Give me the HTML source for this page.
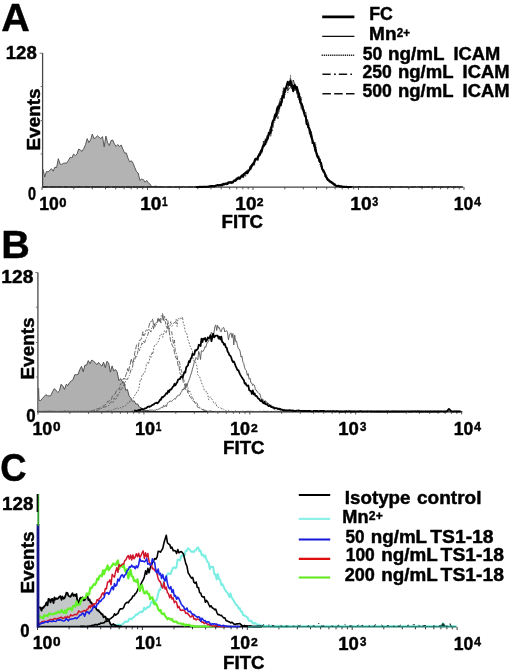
<!DOCTYPE html>
<html><head><meta charset="utf-8"><title>Figure</title>
<style>
html,body{margin:0;padding:0;background:#fff;}
body{width:520px;height:672px;overflow:hidden;}
svg{display:block;}
svg text{font-family:"Liberation Sans",sans-serif;font-weight:bold;fill:#000;stroke:#000;stroke-width:0.45px;stroke-linejoin:round;}
</style></head>
<body>
<svg width="520" height="672" viewBox="0 0 520 672">
<defs><filter id="soft" x="0" y="0" width="520" height="672" filterUnits="userSpaceOnUse"><feGaussianBlur stdDeviation="0.38"/></filter></defs>
<rect width="520" height="672" fill="#fff"/>
<g filter="url(#soft)">
<g id="panelA">
<text x="1.34" y="30.5" font-size="39.5" textLength="28.52" lengthAdjust="spacingAndGlyphs">A</text>
<text x="5.81" y="59.4" font-size="17.6" textLength="30.95" lengthAdjust="spacingAndGlyphs">128</text>
<text transform="translate(40.00,149.60) rotate(-90)" x="-0.91" y="0" font-size="18.8" textLength="62.07" lengthAdjust="spacingAndGlyphs">Events</text>
<text x="27.89" y="199.9" font-size="18" textLength="8.00" lengthAdjust="spacingAndGlyphs">0</text>
<path d="M42.3,169.5 L43.0,169.2 L44.7,177.0 L46.4,171.5 L48.1,171.9 L49.8,170.3 L51.5,168.7 L53.2,171.2 L54.9,167.1 L56.6,167.6 L58.3,158.7 L60.0,164.0 L61.7,164.4 L63.4,163.3 L65.1,163.1 L66.8,162.9 L68.5,160.3 L70.2,157.3 L71.9,157.9 L73.6,154.0 L75.3,155.7 L77.0,154.0 L78.7,149.0 L80.4,150.1 L82.1,151.3 L83.8,148.6 L85.5,144.6 L87.2,138.6 L88.9,142.6 L90.6,139.9 L92.3,134.0 L94.0,138.7 L95.7,137.7 L97.4,135.7 L99.1,137.3 L100.8,138.6 L102.5,136.6 L104.2,146.8 L105.9,136.1 L107.6,142.6 L109.3,145.5 L111.0,140.6 L112.7,140.0 L114.4,143.9 L116.1,146.5 L117.8,144.5 L119.5,146.5 L121.2,145.0 L122.9,149.2 L124.6,153.0 L126.3,153.0 L128.0,158.2 L129.7,161.8 L131.4,160.8 L133.1,163.2 L134.8,167.6 L136.5,171.6 L138.2,173.0 L139.9,180.4 L141.6,179.0 L143.3,179.6 L145.0,182.1 L146.7,180.4 L148.4,182.9 L150.1,184.2 L151.8,186.8 L153.5,186.5 L155.2,186.2 L156.9,186.3 L158.6,187.0 L158.6,187.0 L42.3,187.0 Z" fill="#b3b3b3" stroke="none"/>
<path d="M42.3,169.5 L43.0,169.2 L44.7,177.0 L46.4,171.5 L48.1,171.9 L49.8,170.3 L51.5,168.7 L53.2,171.2 L54.9,167.1 L56.6,167.6 L58.3,158.7 L60.0,164.0 L61.7,164.4 L63.4,163.3 L65.1,163.1 L66.8,162.9 L68.5,160.3 L70.2,157.3 L71.9,157.9 L73.6,154.0 L75.3,155.7 L77.0,154.0 L78.7,149.0 L80.4,150.1 L82.1,151.3 L83.8,148.6 L85.5,144.6 L87.2,138.6 L88.9,142.6 L90.6,139.9 L92.3,134.0 L94.0,138.7 L95.7,137.7 L97.4,135.7 L99.1,137.3 L100.8,138.6 L102.5,136.6 L104.2,146.8 L105.9,136.1 L107.6,142.6 L109.3,145.5 L111.0,140.6 L112.7,140.0 L114.4,143.9 L116.1,146.5 L117.8,144.5 L119.5,146.5 L121.2,145.0 L122.9,149.2 L124.6,153.0 L126.3,153.0 L128.0,158.2 L129.7,161.8 L131.4,160.8 L133.1,163.2 L134.8,167.6 L136.5,171.6 L138.2,173.0 L139.9,180.4 L141.6,179.0 L143.3,179.6 L145.0,182.1 L146.7,180.4 L148.4,182.9 L150.1,184.2 L151.8,186.8 L153.5,186.5 L155.2,186.2 L156.9,186.3 L158.6,187.0" fill="none" stroke="#4a4a4a" stroke-width="0.9" stroke-linejoin="round"/>
<path d="M42.6,53V187.2H463.4" stroke="#444" stroke-width="1.25" fill="none"/>
<path d="M42.6,53.2h-3M42.6,86.5h-2M42.6,120.5h-2M42.6,154h-2" stroke="#666" stroke-width="0.9" fill="none"/>
<path d="M42.0,187.0v3.0M73.8,187.0v2.3M92.3,187.0v2.3M105.5,187.0v2.3M115.7,187.0v2.3M124.1,187.0v2.3M131.2,187.0v2.3M137.3,187.0v2.3M142.7,187.0v2.3M147.5,187.0v3.0M179.3,187.0v2.3M197.8,187.0v2.3M211.0,187.0v2.3M221.2,187.0v2.3M229.6,187.0v2.3M236.7,187.0v2.3M242.8,187.0v2.3M248.2,187.0v2.3M253.0,187.0v3.0M284.8,187.0v2.3M303.3,187.0v2.3M316.5,187.0v2.3M326.7,187.0v2.3M335.1,187.0v2.3M342.2,187.0v2.3M348.3,187.0v2.3M353.7,187.0v2.3M358.5,187.0v3.0M390.3,187.0v2.3M408.8,187.0v2.3M422.0,187.0v2.3M432.2,187.0v2.3M440.6,187.0v2.3M447.7,187.0v2.3M453.8,187.0v2.3M459.2,187.0v2.3M464.0,187.0v3.0" stroke="#444" stroke-width="0.9" fill="none"/>
<path d="M43.0,187.0 L43.9,186.7 L44.8,186.8 L45.7,187.0 L46.6,187.0 L47.5,187.0 L48.4,186.9 L49.3,187.0 L50.2,186.9 L51.1,187.0 L52.0,186.7 L52.9,187.0 L53.8,186.9 L54.7,187.0 L55.6,187.0 L56.5,186.9 L57.4,186.8 L58.3,187.0 L59.2,187.0 L60.1,186.9 L61.0,187.0 L61.9,187.0 L62.8,186.9 L63.7,187.0 L64.6,187.0 L65.5,187.0 L66.4,187.0 L67.3,187.0 L68.2,187.0 L69.1,187.0 L70.0,186.8 L70.9,187.0 L71.8,187.0 L72.7,186.9 L73.6,186.9 L74.5,187.0 L75.4,186.9 L76.3,186.8 L77.2,187.0 L78.1,187.0 L79.0,186.9 L79.9,187.0 L80.8,186.8 L81.7,187.0 L82.6,187.0 L83.5,187.0 L84.4,187.0 L85.3,187.0 L86.2,186.9 L87.1,187.0 L88.0,186.7 L88.9,186.8 L89.8,186.9 L90.7,186.9 L91.6,186.8 L92.5,187.0 L93.4,186.9 L94.3,186.9 L95.2,187.0 L96.1,186.9 L97.0,187.0 L97.9,186.9 L98.8,187.0 L99.7,187.0 L100.6,186.9 L101.5,187.0 L102.4,186.9 L103.3,187.0 L104.2,186.9 L105.1,187.0 L106.0,186.8 L106.9,186.9 L107.8,187.0 L108.7,186.9 L109.6,186.8 L110.5,186.7 L111.4,187.0 L112.3,186.8 L113.2,186.9 L114.1,187.0 L115.0,187.0 L115.9,186.8 L116.8,187.0 L117.7,186.9 L118.6,186.8 L119.5,187.0 L120.4,187.0 L121.3,187.0 L122.2,187.0 L123.1,186.7 L124.0,186.6 L124.9,187.0 L125.8,187.0 L126.7,186.9 L127.6,186.7 L128.5,186.9 L129.4,187.0 L130.3,186.9 L131.2,187.0 L132.1,187.0 L133.0,187.0 L133.9,186.9 L134.8,186.9 L135.7,187.0 L136.6,187.0 L137.5,187.0 L138.4,187.0 L139.3,186.8 L140.2,187.0 L141.1,187.0 L142.0,186.8 L142.9,186.9 L143.8,186.6 L144.7,187.0 L145.6,187.0 L146.5,187.0 L147.4,186.8 L148.3,186.5 L149.2,187.0 L150.1,187.0 L151.0,186.9 L151.9,187.0 L152.8,187.0 L153.7,187.0 L154.6,187.0 L155.5,186.8 L156.4,187.0 L157.3,186.8 L158.2,187.0 L159.1,186.9 L160.0,187.0 L160.9,187.0 L161.8,186.9 L162.7,187.0 L163.6,186.9 L164.5,186.9 L165.4,186.8 L166.3,186.8 L167.2,186.8 L168.1,187.0 L169.0,187.0 L169.9,187.0 L170.8,187.0 L171.7,187.0 L172.6,187.0 L173.5,187.0 L174.4,187.0 L175.3,187.0 L176.2,187.0 L177.1,187.0 L178.0,187.0 L178.9,186.8 L179.8,186.9 L180.7,187.0 L181.6,187.0 L182.5,186.6 L183.4,186.9 L184.3,186.7 L185.2,186.6 L186.1,187.0 L187.0,186.9 L187.9,186.9 L188.8,186.9 L189.7,186.9 L190.6,187.0 L191.5,187.0 L192.4,187.0 L193.3,187.0 L194.2,187.0 L195.1,187.0 L196.0,187.0 L196.9,186.9 L197.8,186.8 L198.7,186.9 L199.6,186.9 L200.5,187.0 L201.4,187.0 L202.3,187.0 L203.2,187.0 L204.1,186.9 L205.0,187.0 L205.9,186.7 L206.8,187.0 L207.7,186.5 L208.6,186.9 L209.5,186.8 L210.4,186.5 L211.3,186.6 L212.2,186.2 L213.1,186.4 L214.0,186.4 L214.9,186.2 L215.8,185.2 L216.7,185.6 L217.6,186.0 L218.5,185.3 L219.4,185.9 L220.3,184.0 L221.2,185.6 L222.1,184.3 L223.0,184.1 L223.9,185.1 L224.8,183.8 L225.7,183.2 L226.6,183.3 L227.5,183.1 L228.4,182.4 L229.3,182.7 L230.2,182.3 L231.1,182.3 L232.0,181.4 L232.9,182.3 L233.8,180.4 L234.7,181.1 L235.6,181.2 L236.5,179.4 L237.4,177.7 L238.3,177.8 L239.2,178.7 L240.1,176.9 L241.0,177.5 L241.9,176.5 L242.8,175.6 L243.7,177.8 L244.6,174.1 L245.5,174.9 L246.4,173.7 L247.3,173.9 L248.2,173.1 L249.1,171.3 L250.0,167.7 L250.9,165.2 L251.8,166.4 L252.7,163.3 L253.6,164.1 L254.5,165.5 L255.4,160.5 L256.3,158.4 L257.2,158.5 L258.1,155.5 L259.0,153.4 L259.9,154.6 L260.8,154.3 L261.7,150.1 L262.6,148.4 L263.5,147.0 L264.4,142.2 L265.3,138.6 L266.2,141.6 L267.1,137.0 L268.0,134.3 L268.9,132.8 L269.8,129.8 L270.7,131.2 L271.6,126.1 L272.5,120.3 L273.4,121.1 L274.3,122.5 L275.2,116.6 L276.1,112.1 L277.0,112.0 L277.9,112.2 L278.8,103.3 L279.7,109.2 L280.6,101.2 L281.5,100.1 L282.4,101.1 L283.3,90.7 L284.2,91.4 L285.1,94.4 L286.0,86.5 L286.9,88.5 L287.8,92.6 L288.7,87.7 L289.6,83.9 L290.5,82.4 L291.4,84.2 L292.3,85.0 L293.2,84.2 L294.1,87.3 L295.0,84.0 L295.9,89.2 L296.8,90.6 L297.7,91.8 L298.6,99.3 L299.5,100.6 L300.4,96.2 L301.3,102.7 L302.2,107.4 L303.1,108.3 L304.0,113.5 L304.9,114.2 L305.8,119.9 L306.7,120.3 L307.6,128.3 L308.5,123.6 L309.4,131.4 L310.3,137.0 L311.2,136.4 L312.1,139.6 L313.0,141.3 L313.9,147.1 L314.8,146.5 L315.7,142.7 L316.6,155.5 L317.5,155.0 L318.4,158.7 L319.3,160.2 L320.2,165.8 L321.1,166.8 L322.0,166.5 L322.9,169.4 L323.8,169.3 L324.7,174.4 L325.6,175.2 L326.5,174.0 L327.4,179.4 L328.3,180.7 L329.2,180.8 L330.1,181.6 L331.0,181.6 L331.9,182.8 L332.8,184.0 L333.7,184.0 L334.6,183.1 L335.5,184.4 L336.4,186.7 L337.3,185.8 L338.2,186.3 L339.1,185.9 L340.0,186.4 L340.9,185.9 L341.8,186.4 L342.7,186.5 L343.6,186.8 L344.5,187.0 L345.4,186.9 L346.3,186.8 L347.2,186.9 L348.1,187.0 L349.0,186.8 L349.9,187.0 L350.8,187.0 L351.7,187.0 L352.6,187.0 L353.5,187.0 L354.4,187.0 L355.3,186.8 L356.2,186.9 L357.1,187.0 L358.0,186.8 L358.9,186.9 L359.8,186.9 L360.7,187.0 L361.6,187.0 L362.5,186.9 L363.4,186.7 L364.3,186.7 L365.2,186.7 L366.1,187.0 L367.0,187.0 L367.9,186.9 L368.8,187.0 L369.7,186.8 L370.6,187.0 L371.5,187.0 L372.4,187.0 L373.3,186.9 L374.2,187.0 L375.1,186.9 L376.0,186.9 L376.9,187.0 L377.8,186.9 L378.7,187.0 L379.6,186.9 L380.5,186.9 L381.4,187.0 L382.3,187.0 L383.2,186.7 L384.1,187.0 L385.0,186.8 L385.9,186.9 L386.8,187.0 L387.7,187.0 L388.6,187.0 L389.5,187.0 L390.4,186.9 L391.3,187.0 L392.2,187.0 L393.1,187.0 L394.0,186.7 L394.9,187.0 L395.8,186.9 L396.7,187.0 L397.6,186.9 L398.5,187.0 L399.4,186.9 L400.3,186.7 L401.2,186.9 L402.1,186.9 L403.0,186.9 L403.9,187.0 L404.8,186.9 L405.7,187.0 L406.6,187.0 L407.5,187.0 L408.4,187.0 L409.3,186.9 L410.2,187.0 L411.1,187.0 L412.0,186.7 L412.9,186.8 L413.8,186.8 L414.7,186.9 L415.6,187.0 L416.5,187.0 L417.4,187.0 L418.3,186.8 L419.2,187.0 L420.1,187.0 L421.0,187.0 L421.9,187.0 L422.8,187.0 L423.7,187.0 L424.6,187.0 L425.5,187.0 L426.4,187.0 L427.3,187.0 L428.2,186.9 L429.1,186.6 L430.0,187.0 L430.9,186.7 L431.8,187.0 L432.7,187.0 L433.6,187.0 L434.5,187.0 L435.4,186.8 L436.3,186.9 L437.2,187.0 L438.1,187.0 L439.0,187.0 L439.9,187.0 L440.8,186.8 L441.7,187.0 L442.6,187.0 L443.5,187.0 L444.4,186.8 L445.3,186.7 L446.2,187.0 L447.1,187.0 L448.0,186.9 L448.9,187.0 L449.8,187.0 L450.7,186.8 L451.6,186.7 L452.5,187.0 L453.4,187.0 L454.3,186.9 L455.2,187.0 L456.1,187.0 L457.0,187.0 L457.9,186.6 L458.8,186.9 L459.7,187.0 L460.6,187.0 L461.5,187.0 L462.4,186.9" fill="none" stroke="#333" stroke-width="0.9" stroke-linejoin="round" stroke-dasharray="1.2,1.2"/>
<path d="M43.0,187.0 L43.9,186.8 L44.8,186.9 L45.7,186.9 L46.6,186.7 L47.5,187.0 L48.4,187.0 L49.3,187.0 L50.2,187.0 L51.1,186.8 L52.0,187.0 L52.9,186.9 L53.8,187.0 L54.7,187.0 L55.6,187.0 L56.5,186.7 L57.4,186.8 L58.3,186.8 L59.2,187.0 L60.1,186.9 L61.0,186.9 L61.9,187.0 L62.8,187.0 L63.7,187.0 L64.6,187.0 L65.5,187.0 L66.4,187.0 L67.3,187.0 L68.2,186.9 L69.1,187.0 L70.0,186.8 L70.9,187.0 L71.8,187.0 L72.7,187.0 L73.6,187.0 L74.5,187.0 L75.4,187.0 L76.3,187.0 L77.2,187.0 L78.1,186.7 L79.0,186.9 L79.9,187.0 L80.8,186.8 L81.7,187.0 L82.6,186.9 L83.5,186.9 L84.4,187.0 L85.3,187.0 L86.2,187.0 L87.1,186.9 L88.0,187.0 L88.9,186.9 L89.8,186.8 L90.7,187.0 L91.6,186.8 L92.5,186.7 L93.4,186.8 L94.3,186.8 L95.2,186.8 L96.1,186.6 L97.0,187.0 L97.9,187.0 L98.8,186.9 L99.7,187.0 L100.6,187.0 L101.5,187.0 L102.4,186.9 L103.3,186.9 L104.2,187.0 L105.1,187.0 L106.0,187.0 L106.9,187.0 L107.8,187.0 L108.7,186.9 L109.6,186.8 L110.5,187.0 L111.4,186.9 L112.3,187.0 L113.2,187.0 L114.1,187.0 L115.0,186.9 L115.9,186.9 L116.8,186.9 L117.7,186.9 L118.6,186.8 L119.5,187.0 L120.4,187.0 L121.3,186.9 L122.2,186.9 L123.1,187.0 L124.0,186.8 L124.9,187.0 L125.8,187.0 L126.7,186.9 L127.6,186.9 L128.5,187.0 L129.4,186.8 L130.3,187.0 L131.2,187.0 L132.1,187.0 L133.0,187.0 L133.9,187.0 L134.8,187.0 L135.7,187.0 L136.6,187.0 L137.5,187.0 L138.4,187.0 L139.3,186.8 L140.2,187.0 L141.1,187.0 L142.0,186.9 L142.9,186.6 L143.8,187.0 L144.7,186.9 L145.6,187.0 L146.5,186.7 L147.4,186.9 L148.3,186.8 L149.2,187.0 L150.1,187.0 L151.0,186.8 L151.9,186.9 L152.8,187.0 L153.7,187.0 L154.6,186.9 L155.5,187.0 L156.4,186.5 L157.3,187.0 L158.2,187.0 L159.1,187.0 L160.0,187.0 L160.9,187.0 L161.8,186.7 L162.7,187.0 L163.6,187.0 L164.5,187.0 L165.4,186.9 L166.3,186.9 L167.2,187.0 L168.1,187.0 L169.0,186.9 L169.9,186.9 L170.8,187.0 L171.7,186.9 L172.6,187.0 L173.5,187.0 L174.4,187.0 L175.3,187.0 L176.2,187.0 L177.1,186.9 L178.0,186.8 L178.9,186.9 L179.8,187.0 L180.7,186.8 L181.6,186.9 L182.5,187.0 L183.4,187.0 L184.3,186.8 L185.2,187.0 L186.1,187.0 L187.0,187.0 L187.9,187.0 L188.8,187.0 L189.7,187.0 L190.6,186.9 L191.5,186.9 L192.4,187.0 L193.3,187.0 L194.2,186.9 L195.1,186.8 L196.0,186.9 L196.9,186.8 L197.8,186.8 L198.7,186.8 L199.6,187.0 L200.5,187.0 L201.4,187.0 L202.3,187.0 L203.2,187.0 L204.1,186.6 L205.0,187.0 L205.9,187.0 L206.8,186.9 L207.7,186.3 L208.6,186.7 L209.5,186.5 L210.4,186.6 L211.3,186.4 L212.2,185.8 L213.1,185.9 L214.0,186.1 L214.9,185.5 L215.8,185.3 L216.7,185.7 L217.6,185.3 L218.5,185.2 L219.4,185.4 L220.3,184.3 L221.2,184.9 L222.1,184.9 L223.0,185.4 L223.9,185.0 L224.8,183.1 L225.7,184.5 L226.6,183.3 L227.5,183.6 L228.4,182.7 L229.3,182.4 L230.2,183.1 L231.1,182.4 L232.0,181.8 L232.9,181.4 L233.8,181.1 L234.7,181.0 L235.6,179.7 L236.5,178.6 L237.4,178.8 L238.3,179.5 L239.2,177.8 L240.1,177.6 L241.0,176.5 L241.9,174.3 L242.8,176.0 L243.7,175.1 L244.6,175.4 L245.5,174.0 L246.4,173.6 L247.3,169.8 L248.2,170.6 L249.1,170.8 L250.0,166.1 L250.9,169.7 L251.8,165.1 L252.7,163.4 L253.6,162.7 L254.5,162.7 L255.4,161.0 L256.3,159.8 L257.2,156.2 L258.1,160.5 L259.0,155.5 L259.9,152.6 L260.8,152.4 L261.7,153.4 L262.6,148.5 L263.5,147.9 L264.4,142.6 L265.3,139.4 L266.2,140.5 L267.1,143.2 L268.0,137.1 L268.9,136.8 L269.8,130.7 L270.7,125.9 L271.6,127.2 L272.5,120.3 L273.4,119.2 L274.3,118.9 L275.2,120.7 L276.1,115.1 L277.0,117.0 L277.9,107.1 L278.8,107.2 L279.7,100.7 L280.6,101.4 L281.5,105.7 L282.4,94.7 L283.3,91.2 L284.2,86.6 L285.1,93.2 L286.0,91.1 L286.9,86.3 L287.8,89.2 L288.7,89.6 L289.6,88.1 L290.5,75.2 L291.4,86.5 L292.3,88.3 L293.2,86.9 L294.1,86.2 L295.0,83.2 L295.9,86.2 L296.8,88.6 L297.7,93.1 L298.6,95.0 L299.5,100.1 L300.4,105.4 L301.3,97.1 L302.2,107.6 L303.1,106.0 L304.0,112.7 L304.9,115.0 L305.8,118.2 L306.7,124.6 L307.6,124.0 L308.5,125.8 L309.4,127.7 L310.3,131.5 L311.2,133.2 L312.1,137.8 L313.0,141.4 L313.9,148.7 L314.8,148.4 L315.7,146.8 L316.6,152.6 L317.5,153.9 L318.4,158.4 L319.3,161.6 L320.2,159.2 L321.1,164.3 L322.0,164.8 L322.9,168.5 L323.8,171.8 L324.7,176.3 L325.6,175.2 L326.5,178.7 L327.4,180.8 L328.3,178.6 L329.2,180.1 L330.1,181.0 L331.0,182.2 L331.9,182.9 L332.8,183.2 L333.7,183.9 L334.6,184.5 L335.5,184.6 L336.4,186.5 L337.3,185.3 L338.2,186.2 L339.1,185.8 L340.0,185.9 L340.9,186.7 L341.8,186.4 L342.7,186.5 L343.6,187.0 L344.5,187.0 L345.4,187.0 L346.3,187.0 L347.2,187.0 L348.1,187.0 L349.0,187.0 L349.9,187.0 L350.8,187.0 L351.7,186.7 L352.6,186.8 L353.5,187.0 L354.4,187.0 L355.3,187.0 L356.2,187.0 L357.1,187.0 L358.0,187.0 L358.9,186.9 L359.8,186.8 L360.7,187.0 L361.6,186.8 L362.5,187.0 L363.4,186.8 L364.3,187.0 L365.2,186.9 L366.1,186.7 L367.0,187.0 L367.9,186.7 L368.8,187.0 L369.7,187.0 L370.6,187.0 L371.5,186.9 L372.4,187.0 L373.3,186.8 L374.2,187.0 L375.1,187.0 L376.0,186.8 L376.9,187.0 L377.8,186.9 L378.7,186.8 L379.6,186.9 L380.5,186.9 L381.4,186.9 L382.3,187.0 L383.2,187.0 L384.1,187.0 L385.0,187.0 L385.9,187.0 L386.8,187.0 L387.7,186.9 L388.6,187.0 L389.5,186.7 L390.4,187.0 L391.3,187.0 L392.2,187.0 L393.1,187.0 L394.0,187.0 L394.9,187.0 L395.8,186.9 L396.7,186.8 L397.6,186.8 L398.5,187.0 L399.4,187.0 L400.3,186.7 L401.2,187.0 L402.1,186.9 L403.0,187.0 L403.9,186.8 L404.8,186.8 L405.7,186.6 L406.6,186.9 L407.5,186.9 L408.4,187.0 L409.3,187.0 L410.2,187.0 L411.1,187.0 L412.0,187.0 L412.9,186.8 L413.8,187.0 L414.7,186.9 L415.6,187.0 L416.5,186.9 L417.4,186.7 L418.3,187.0 L419.2,186.9 L420.1,187.0 L421.0,186.9 L421.9,186.9 L422.8,187.0 L423.7,187.0 L424.6,187.0 L425.5,187.0 L426.4,187.0 L427.3,186.8 L428.2,187.0 L429.1,186.9 L430.0,186.9 L430.9,187.0 L431.8,186.8 L432.7,187.0 L433.6,186.9 L434.5,186.7 L435.4,187.0 L436.3,187.0 L437.2,187.0 L438.1,186.6 L439.0,187.0 L439.9,187.0 L440.8,186.8 L441.7,187.0 L442.6,187.0 L443.5,187.0 L444.4,187.0 L445.3,187.0 L446.2,187.0 L447.1,187.0 L448.0,187.0 L448.9,187.0 L449.8,186.9 L450.7,186.9 L451.6,186.9 L452.5,187.0 L453.4,187.0 L454.3,186.9 L455.2,186.9 L456.1,186.8 L457.0,187.0 L457.9,187.0 L458.8,186.9 L459.7,187.0 L460.6,187.0 L461.5,186.9 L462.4,187.0" fill="none" stroke="#333" stroke-width="0.9" stroke-linejoin="round" stroke-dasharray="5,2,1.5,2"/>
<path d="M43.0,186.7 L43.9,187.0 L44.8,186.8 L45.7,187.0 L46.6,186.8 L47.5,186.9 L48.4,186.7 L49.3,187.0 L50.2,187.0 L51.1,186.9 L52.0,186.9 L52.9,187.0 L53.8,187.0 L54.7,186.9 L55.6,186.9 L56.5,187.0 L57.4,187.0 L58.3,187.0 L59.2,186.7 L60.1,187.0 L61.0,186.8 L61.9,186.9 L62.8,186.6 L63.7,186.7 L64.6,186.9 L65.5,186.7 L66.4,187.0 L67.3,186.8 L68.2,187.0 L69.1,186.9 L70.0,186.8 L70.9,187.0 L71.8,187.0 L72.7,187.0 L73.6,187.0 L74.5,186.8 L75.4,186.8 L76.3,187.0 L77.2,187.0 L78.1,186.9 L79.0,187.0 L79.9,187.0 L80.8,187.0 L81.7,186.9 L82.6,187.0 L83.5,186.9 L84.4,186.9 L85.3,187.0 L86.2,186.9 L87.1,186.7 L88.0,187.0 L88.9,186.9 L89.8,187.0 L90.7,186.8 L91.6,186.9 L92.5,186.8 L93.4,186.9 L94.3,186.7 L95.2,187.0 L96.1,187.0 L97.0,187.0 L97.9,186.9 L98.8,187.0 L99.7,187.0 L100.6,186.9 L101.5,186.8 L102.4,186.9 L103.3,187.0 L104.2,187.0 L105.1,187.0 L106.0,187.0 L106.9,187.0 L107.8,186.7 L108.7,187.0 L109.6,187.0 L110.5,186.9 L111.4,187.0 L112.3,187.0 L113.2,187.0 L114.1,187.0 L115.0,186.9 L115.9,187.0 L116.8,187.0 L117.7,186.8 L118.6,186.8 L119.5,187.0 L120.4,187.0 L121.3,187.0 L122.2,187.0 L123.1,187.0 L124.0,186.7 L124.9,187.0 L125.8,186.8 L126.7,187.0 L127.6,186.9 L128.5,186.7 L129.4,187.0 L130.3,187.0 L131.2,187.0 L132.1,186.9 L133.0,186.7 L133.9,186.9 L134.8,187.0 L135.7,187.0 L136.6,187.0 L137.5,187.0 L138.4,186.6 L139.3,187.0 L140.2,187.0 L141.1,187.0 L142.0,186.8 L142.9,186.9 L143.8,187.0 L144.7,187.0 L145.6,186.8 L146.5,187.0 L147.4,187.0 L148.3,187.0 L149.2,186.8 L150.1,187.0 L151.0,187.0 L151.9,187.0 L152.8,186.5 L153.7,187.0 L154.6,186.8 L155.5,186.9 L156.4,187.0 L157.3,187.0 L158.2,187.0 L159.1,187.0 L160.0,187.0 L160.9,186.5 L161.8,186.8 L162.7,187.0 L163.6,187.0 L164.5,187.0 L165.4,186.8 L166.3,187.0 L167.2,186.9 L168.1,187.0 L169.0,186.9 L169.9,186.6 L170.8,187.0 L171.7,186.9 L172.6,187.0 L173.5,186.8 L174.4,186.8 L175.3,187.0 L176.2,187.0 L177.1,186.9 L178.0,187.0 L178.9,187.0 L179.8,186.9 L180.7,186.9 L181.6,187.0 L182.5,187.0 L183.4,186.5 L184.3,186.8 L185.2,187.0 L186.1,186.5 L187.0,187.0 L187.9,187.0 L188.8,187.0 L189.7,187.0 L190.6,187.0 L191.5,186.8 L192.4,187.0 L193.3,186.8 L194.2,187.0 L195.1,187.0 L196.0,186.9 L196.9,186.9 L197.8,187.0 L198.7,187.0 L199.6,187.0 L200.5,186.9 L201.4,186.8 L202.3,186.8 L203.2,186.5 L204.1,186.8 L205.0,186.9 L205.9,186.5 L206.8,186.7 L207.7,187.0 L208.6,187.0 L209.5,186.2 L210.4,186.3 L211.3,186.1 L212.2,186.4 L213.1,186.0 L214.0,185.3 L214.9,185.7 L215.8,186.2 L216.7,185.8 L217.6,184.8 L218.5,185.8 L219.4,186.4 L220.3,186.1 L221.2,185.5 L222.1,184.1 L223.0,184.4 L223.9,184.7 L224.8,184.8 L225.7,183.9 L226.6,183.7 L227.5,183.7 L228.4,183.2 L229.3,183.3 L230.2,181.2 L231.1,184.0 L232.0,181.8 L232.9,182.3 L233.8,180.5 L234.7,180.9 L235.6,179.9 L236.5,179.3 L237.4,179.1 L238.3,177.8 L239.2,179.6 L240.1,176.6 L241.0,177.3 L241.9,176.0 L242.8,173.9 L243.7,173.7 L244.6,171.9 L245.5,176.4 L246.4,174.1 L247.3,170.7 L248.2,172.6 L249.1,170.3 L250.0,166.4 L250.9,166.4 L251.8,167.9 L252.7,164.3 L253.6,162.6 L254.5,162.1 L255.4,160.9 L256.3,159.0 L257.2,160.4 L258.1,155.8 L259.0,156.4 L259.9,152.1 L260.8,150.4 L261.7,151.5 L262.6,146.7 L263.5,145.5 L264.4,144.5 L265.3,140.9 L266.2,141.3 L267.1,139.3 L268.0,136.4 L268.9,134.7 L269.8,129.5 L270.7,136.3 L271.6,128.8 L272.5,131.1 L273.4,124.7 L274.3,120.2 L275.2,118.3 L276.1,113.0 L277.0,112.3 L277.9,118.8 L278.8,111.4 L279.7,100.7 L280.6,98.0 L281.5,99.8 L282.4,102.4 L283.3,87.8 L284.2,99.7 L285.1,89.6 L286.0,88.9 L286.9,86.4 L287.8,90.3 L288.7,87.0 L289.6,81.4 L290.5,86.6 L291.4,89.8 L292.3,85.5 L293.2,85.8 L294.1,87.3 L295.0,90.9 L295.9,88.2 L296.8,92.3 L297.7,97.7 L298.6,95.4 L299.5,98.7 L300.4,100.8 L301.3,109.3 L302.2,109.2 L303.1,108.2 L304.0,109.6 L304.9,114.2 L305.8,117.7 L306.7,119.2 L307.6,121.6 L308.5,122.6 L309.4,129.0 L310.3,134.6 L311.2,134.8 L312.1,143.5 L313.0,141.6 L313.9,145.6 L314.8,147.5 L315.7,149.3 L316.6,152.9 L317.5,158.5 L318.4,158.9 L319.3,162.0 L320.2,162.8 L321.1,164.4 L322.0,168.7 L322.9,168.3 L323.8,169.8 L324.7,173.9 L325.6,174.6 L326.5,178.7 L327.4,179.2 L328.3,179.0 L329.2,182.3 L330.1,182.0 L331.0,183.0 L331.9,182.1 L332.8,182.8 L333.7,184.5 L334.6,184.5 L335.5,186.4 L336.4,185.0 L337.3,185.5 L338.2,185.4 L339.1,187.0 L340.0,186.2 L340.9,186.6 L341.8,187.0 L342.7,186.9 L343.6,186.9 L344.5,186.8 L345.4,187.0 L346.3,187.0 L347.2,186.9 L348.1,187.0 L349.0,187.0 L349.9,187.0 L350.8,187.0 L351.7,187.0 L352.6,186.7 L353.5,187.0 L354.4,186.7 L355.3,186.9 L356.2,186.8 L357.1,187.0 L358.0,187.0 L358.9,187.0 L359.8,186.8 L360.7,187.0 L361.6,186.9 L362.5,186.9 L363.4,186.8 L364.3,187.0 L365.2,187.0 L366.1,186.9 L367.0,187.0 L367.9,186.7 L368.8,187.0 L369.7,187.0 L370.6,187.0 L371.5,186.8 L372.4,186.8 L373.3,186.9 L374.2,187.0 L375.1,187.0 L376.0,187.0 L376.9,186.9 L377.8,186.7 L378.7,187.0 L379.6,187.0 L380.5,187.0 L381.4,187.0 L382.3,187.0 L383.2,186.8 L384.1,187.0 L385.0,187.0 L385.9,187.0 L386.8,186.8 L387.7,186.6 L388.6,187.0 L389.5,187.0 L390.4,187.0 L391.3,186.8 L392.2,186.9 L393.1,186.7 L394.0,187.0 L394.9,187.0 L395.8,187.0 L396.7,187.0 L397.6,187.0 L398.5,187.0 L399.4,186.6 L400.3,186.9 L401.2,187.0 L402.1,187.0 L403.0,186.7 L403.9,187.0 L404.8,186.9 L405.7,186.9 L406.6,186.8 L407.5,186.9 L408.4,187.0 L409.3,187.0 L410.2,187.0 L411.1,187.0 L412.0,187.0 L412.9,187.0 L413.8,187.0 L414.7,187.0 L415.6,186.6 L416.5,187.0 L417.4,187.0 L418.3,187.0 L419.2,187.0 L420.1,186.9 L421.0,187.0 L421.9,186.9 L422.8,187.0 L423.7,187.0 L424.6,186.8 L425.5,186.9 L426.4,187.0 L427.3,187.0 L428.2,186.7 L429.1,186.7 L430.0,186.8 L430.9,187.0 L431.8,186.8 L432.7,186.9 L433.6,187.0 L434.5,187.0 L435.4,186.9 L436.3,186.9 L437.2,186.8 L438.1,187.0 L439.0,186.7 L439.9,187.0 L440.8,186.8 L441.7,186.9 L442.6,187.0 L443.5,187.0 L444.4,187.0 L445.3,187.0 L446.2,186.8 L447.1,187.0 L448.0,187.0 L448.9,187.0 L449.8,186.6 L450.7,186.7 L451.6,187.0 L452.5,187.0 L453.4,186.9 L454.3,187.0 L455.2,187.0 L456.1,187.0 L457.0,187.0 L457.9,187.0 L458.8,187.0 L459.7,187.0 L460.6,187.0 L461.5,187.0 L462.4,187.0" fill="none" stroke="#333" stroke-width="0.9" stroke-linejoin="round" stroke-dasharray="4.5,2.5"/>
<path d="M43.0,186.9 L43.9,187.0 L44.8,187.0 L45.7,187.0 L46.6,187.0 L47.5,186.8 L48.4,187.0 L49.3,186.9 L50.2,186.8 L51.1,187.0 L52.0,186.5 L52.9,187.0 L53.8,186.9 L54.7,186.5 L55.6,187.0 L56.5,187.0 L57.4,187.0 L58.3,186.9 L59.2,187.0 L60.1,187.0 L61.0,186.7 L61.9,187.0 L62.8,187.0 L63.7,186.9 L64.6,186.9 L65.5,187.0 L66.4,186.9 L67.3,187.0 L68.2,186.9 L69.1,187.0 L70.0,186.9 L70.9,187.0 L71.8,187.0 L72.7,187.0 L73.6,187.0 L74.5,186.8 L75.4,187.0 L76.3,186.8 L77.2,187.0 L78.1,186.7 L79.0,187.0 L79.9,186.7 L80.8,186.8 L81.7,187.0 L82.6,186.9 L83.5,187.0 L84.4,186.9 L85.3,186.7 L86.2,186.9 L87.1,186.8 L88.0,187.0 L88.9,187.0 L89.8,186.9 L90.7,186.8 L91.6,187.0 L92.5,186.9 L93.4,186.9 L94.3,187.0 L95.2,187.0 L96.1,186.9 L97.0,187.0 L97.9,187.0 L98.8,186.8 L99.7,186.9 L100.6,187.0 L101.5,187.0 L102.4,187.0 L103.3,187.0 L104.2,187.0 L105.1,186.9 L106.0,186.8 L106.9,187.0 L107.8,187.0 L108.7,187.0 L109.6,187.0 L110.5,187.0 L111.4,186.8 L112.3,187.0 L113.2,186.8 L114.1,187.0 L115.0,186.8 L115.9,186.8 L116.8,187.0 L117.7,187.0 L118.6,187.0 L119.5,187.0 L120.4,187.0 L121.3,187.0 L122.2,186.7 L123.1,187.0 L124.0,187.0 L124.9,187.0 L125.8,187.0 L126.7,187.0 L127.6,186.9 L128.5,187.0 L129.4,187.0 L130.3,187.0 L131.2,187.0 L132.1,186.8 L133.0,186.9 L133.9,187.0 L134.8,187.0 L135.7,186.9 L136.6,186.7 L137.5,187.0 L138.4,186.7 L139.3,187.0 L140.2,187.0 L141.1,187.0 L142.0,186.8 L142.9,187.0 L143.8,187.0 L144.7,186.8 L145.6,187.0 L146.5,187.0 L147.4,186.8 L148.3,187.0 L149.2,186.8 L150.1,187.0 L151.0,186.9 L151.9,186.8 L152.8,187.0 L153.7,186.7 L154.6,187.0 L155.5,187.0 L156.4,187.0 L157.3,186.8 L158.2,187.0 L159.1,187.0 L160.0,187.0 L160.9,186.8 L161.8,187.0 L162.7,187.0 L163.6,187.0 L164.5,186.9 L165.4,187.0 L166.3,187.0 L167.2,187.0 L168.1,187.0 L169.0,187.0 L169.9,186.9 L170.8,186.9 L171.7,186.9 L172.6,187.0 L173.5,186.9 L174.4,187.0 L175.3,187.0 L176.2,186.8 L177.1,186.8 L178.0,187.0 L178.9,186.9 L179.8,187.0 L180.7,187.0 L181.6,187.0 L182.5,187.0 L183.4,186.7 L184.3,187.0 L185.2,187.0 L186.1,187.0 L187.0,187.0 L187.9,186.8 L188.8,186.7 L189.7,187.0 L190.6,186.9 L191.5,187.0 L192.4,186.9 L193.3,187.0 L194.2,186.8 L195.1,187.0 L196.0,186.7 L196.9,186.9 L197.8,186.5 L198.7,187.0 L199.6,187.0 L200.5,187.0 L201.4,187.0 L202.3,186.9 L203.2,187.0 L204.1,187.0 L205.0,187.0 L205.9,186.8 L206.8,186.5 L207.7,186.4 L208.6,186.6 L209.5,186.9 L210.4,186.6 L211.3,186.9 L212.2,186.8 L213.1,185.8 L214.0,186.1 L214.9,185.8 L215.8,185.9 L216.7,185.0 L217.6,184.8 L218.5,185.7 L219.4,185.3 L220.3,185.3 L221.2,184.1 L222.1,183.9 L223.0,184.6 L223.9,182.8 L224.8,184.0 L225.7,184.6 L226.6,184.9 L227.5,183.4 L228.4,182.8 L229.3,183.2 L230.2,182.2 L231.1,181.3 L232.0,181.9 L232.9,180.8 L233.8,179.7 L234.7,180.3 L235.6,180.8 L236.5,179.4 L237.4,178.8 L238.3,176.6 L239.2,178.7 L240.1,179.3 L241.0,176.7 L241.9,176.0 L242.8,176.2 L243.7,174.4 L244.6,173.9 L245.5,172.1 L246.4,173.9 L247.3,172.9 L248.2,171.1 L249.1,170.7 L250.0,167.0 L250.9,166.8 L251.8,166.4 L252.7,162.6 L253.6,162.9 L254.5,160.5 L255.4,159.3 L256.3,159.5 L257.2,157.9 L258.1,156.1 L259.0,156.6 L259.9,153.6 L260.8,149.5 L261.7,149.0 L262.6,150.0 L263.5,141.1 L264.4,146.7 L265.3,141.1 L266.2,138.9 L267.1,135.6 L268.0,138.7 L268.9,134.5 L269.8,132.9 L270.7,127.3 L271.6,127.0 L272.5,124.6 L273.4,121.8 L274.3,115.3 L275.2,116.3 L276.1,113.1 L277.0,115.8 L277.9,108.4 L278.8,111.6 L279.7,102.3 L280.6,102.2 L281.5,102.7 L282.4,100.8 L283.3,94.9 L284.2,92.0 L285.1,92.1 L286.0,89.4 L286.9,87.8 L287.8,87.6 L288.7,85.8 L289.6,83.6 L290.5,79.9 L291.4,82.3 L292.3,86.9 L293.2,80.0 L294.1,82.3 L295.0,88.5 L295.9,86.0 L296.8,93.0 L297.7,95.7 L298.6,97.9 L299.5,92.8 L300.4,100.2 L301.3,102.4 L302.2,106.0 L303.1,110.2 L304.0,110.3 L304.9,112.7 L305.8,112.1 L306.7,123.0 L307.6,119.6 L308.5,125.0 L309.4,134.2 L310.3,130.2 L311.2,131.6 L312.1,135.8 L313.0,140.8 L313.9,143.9 L314.8,151.4 L315.7,149.3 L316.6,152.3 L317.5,157.1 L318.4,157.5 L319.3,161.5 L320.2,158.8 L321.1,166.7 L322.0,168.4 L322.9,172.3 L323.8,171.9 L324.7,173.3 L325.6,175.3 L326.5,177.7 L327.4,177.6 L328.3,179.6 L329.2,179.7 L330.1,181.6 L331.0,183.6 L331.9,183.0 L332.8,184.2 L333.7,183.5 L334.6,184.9 L335.5,185.1 L336.4,185.4 L337.3,186.3 L338.2,186.1 L339.1,185.8 L340.0,186.5 L340.9,186.5 L341.8,186.6 L342.7,186.9 L343.6,186.9 L344.5,186.9 L345.4,187.0 L346.3,187.0 L347.2,187.0 L348.1,187.0 L349.0,187.0 L349.9,186.6 L350.8,186.7 L351.7,187.0 L352.6,186.8 L353.5,186.8 L354.4,186.8 L355.3,187.0 L356.2,187.0 L357.1,187.0 L358.0,187.0 L358.9,186.7 L359.8,186.7 L360.7,187.0 L361.6,187.0 L362.5,186.8 L363.4,186.6 L364.3,187.0 L365.2,186.9 L366.1,187.0 L367.0,187.0 L367.9,187.0 L368.8,187.0 L369.7,187.0 L370.6,187.0 L371.5,187.0 L372.4,186.8 L373.3,186.9 L374.2,186.8 L375.1,186.9 L376.0,187.0 L376.9,186.6 L377.8,187.0 L378.7,187.0 L379.6,186.8 L380.5,187.0 L381.4,187.0 L382.3,187.0 L383.2,187.0 L384.1,187.0 L385.0,187.0 L385.9,186.8 L386.8,186.9 L387.7,186.9 L388.6,187.0 L389.5,186.8 L390.4,186.8 L391.3,186.6 L392.2,187.0 L393.1,187.0 L394.0,186.7 L394.9,187.0 L395.8,186.9 L396.7,187.0 L397.6,187.0 L398.5,187.0 L399.4,187.0 L400.3,187.0 L401.2,186.8 L402.1,187.0 L403.0,187.0 L403.9,187.0 L404.8,187.0 L405.7,187.0 L406.6,186.9 L407.5,187.0 L408.4,187.0 L409.3,187.0 L410.2,187.0 L411.1,187.0 L412.0,187.0 L412.9,187.0 L413.8,187.0 L414.7,186.9 L415.6,186.9 L416.5,187.0 L417.4,186.9 L418.3,186.9 L419.2,186.5 L420.1,187.0 L421.0,186.9 L421.9,187.0 L422.8,186.8 L423.7,187.0 L424.6,186.9 L425.5,187.0 L426.4,186.9 L427.3,187.0 L428.2,187.0 L429.1,187.0 L430.0,187.0 L430.9,186.9 L431.8,186.8 L432.7,187.0 L433.6,187.0 L434.5,186.9 L435.4,186.7 L436.3,186.8 L437.2,186.9 L438.1,187.0 L439.0,187.0 L439.9,187.0 L440.8,187.0 L441.7,186.9 L442.6,187.0 L443.5,187.0 L444.4,186.6 L445.3,187.0 L446.2,186.6 L447.1,187.0 L448.0,187.0 L448.9,187.0 L449.8,187.0 L450.7,186.7 L451.6,187.0 L452.5,187.0 L453.4,186.7 L454.3,187.0 L455.2,187.0 L456.1,187.0 L457.0,187.0 L457.9,186.7 L458.8,186.8 L459.7,187.0 L460.6,186.9 L461.5,187.0 L462.4,187.0" fill="none" stroke="#222" stroke-width="0.9" stroke-linejoin="round"/>
<path d="M196.0,187.0 L196.9,187.0 L197.8,187.0 L198.7,187.0 L199.6,186.9 L200.5,186.9 L201.4,187.0 L202.3,186.9 L203.2,187.0 L204.1,186.7 L205.0,186.8 L205.9,186.9 L206.8,186.8 L207.7,186.7 L208.6,186.6 L209.5,186.3 L210.4,186.4 L211.3,186.0 L212.2,186.1 L213.1,186.2 L214.0,186.4 L214.9,186.3 L215.8,185.7 L216.7,185.4 L217.6,185.0 L218.5,185.5 L219.4,185.1 L220.3,185.2 L221.2,184.9 L222.1,185.4 L223.0,184.1 L223.9,184.5 L224.8,184.0 L225.7,183.6 L226.6,183.4 L227.5,183.9 L228.4,182.4 L229.3,182.4 L230.2,182.3 L231.1,182.5 L232.0,182.7 L232.9,182.4 L233.8,181.2 L234.7,180.6 L235.6,180.7 L236.5,178.7 L237.4,179.1 L238.3,178.1 L239.2,177.6 L240.1,178.4 L241.0,176.3 L241.9,176.1 L242.8,176.7 L243.7,174.5 L244.6,173.5 L245.5,172.8 L246.4,171.9 L247.3,173.2 L248.2,171.2 L249.1,170.5 L250.0,168.8 L250.9,167.6 L251.8,165.3 L252.7,164.3 L253.6,164.6 L254.5,161.2 L255.4,158.9 L256.3,158.9 L257.2,159.5 L258.1,156.9 L259.0,154.7 L259.9,155.0 L260.8,151.4 L261.7,151.4 L262.6,146.9 L263.5,145.3 L264.4,144.5 L265.3,144.4 L266.2,140.2 L267.1,139.6 L268.0,137.7 L268.9,132.7 L269.8,133.6 L270.7,132.5 L271.6,126.7 L272.5,122.6 L273.4,120.5 L274.3,119.4 L275.2,114.5 L276.1,116.4 L277.0,109.0 L277.9,106.5 L278.8,108.6 L279.7,104.5 L280.6,105.4 L281.5,102.1 L282.4,96.1 L283.3,97.2 L284.2,92.1 L285.1,89.4 L286.0,88.2 L286.9,84.8 L287.8,81.7 L288.7,84.9 L289.6,82.5 L290.5,81.2 L291.4,85.7 L292.3,86.6 L293.2,91.1 L294.1,85.6 L295.0,85.6 L295.9,88.7 L296.8,87.0 L297.7,90.2 L298.6,94.1 L299.5,98.3 L300.4,102.7 L301.3,103.5 L302.2,105.5 L303.1,109.4 L304.0,112.6 L304.9,115.7 L305.8,116.7 L306.7,124.0 L307.6,124.6 L308.5,126.9 L309.4,128.9 L310.3,131.8 L311.2,136.2 L312.1,139.6 L313.0,143.3 L313.9,142.8 L314.8,146.5 L315.7,149.9 L316.6,153.9 L317.5,157.0 L318.4,156.7 L319.3,160.5 L320.2,162.2 L321.1,163.1 L322.0,168.7 L322.9,170.1 L323.8,171.2 L324.7,173.0 L325.6,176.2 L326.5,177.2 L327.4,179.0 L328.3,180.2 L329.2,180.6 L330.1,181.4 L331.0,181.7 L331.9,182.6 L332.8,182.9 L333.7,184.4 L334.6,184.4 L335.5,185.5 L336.4,185.9 L337.3,186.1 L338.2,185.7 L339.1,186.1 L340.0,186.7 L340.9,186.2 L341.8,186.5 L342.7,186.8 L343.6,186.9 L344.5,186.9 L345.4,187.0 L346.3,186.7 L347.2,187.0 L348.1,187.0 L349.0,187.0 L349.9,187.0 L350.8,187.0 L351.7,187.0" fill="none" stroke="#000" stroke-width="2.1" stroke-linejoin="round"/>
<text y="210.0" font-size="18"><tspan x="39.37" y="210.0" font-size="18" textLength="19.54" lengthAdjust="spacingAndGlyphs">10</tspan><tspan x="59.24" y="206.5" font-size="13.0" textLength="7.21" lengthAdjust="spacingAndGlyphs">0</tspan></text>
<text y="210.0" font-size="18"><tspan x="140.28" y="210.0" font-size="18" textLength="21.18" lengthAdjust="spacingAndGlyphs">10</tspan><tspan x="161.92" y="205.79999999999998" font-size="13.0" textLength="5.62" lengthAdjust="spacingAndGlyphs">1</tspan></text>
<text y="209.7" font-size="18"><tspan x="235.39" y="209.7" font-size="18" textLength="21.07" lengthAdjust="spacingAndGlyphs">10</tspan><tspan x="256.66" y="206.1" font-size="11.2" textLength="6.75" lengthAdjust="spacingAndGlyphs">2</tspan></text>
<text y="210.0" font-size="18"><tspan x="350.38" y="210.0" font-size="18" textLength="21.29" lengthAdjust="spacingAndGlyphs">10</tspan><tspan x="372.31" y="205.79999999999998" font-size="13.0" textLength="5.95" lengthAdjust="spacingAndGlyphs">3</tspan></text>
<text y="210.0" font-size="18"><tspan x="453.77" y="210.0" font-size="18" textLength="19.54" lengthAdjust="spacingAndGlyphs">10</tspan><tspan x="473.90" y="206.2" font-size="13.0" textLength="7.03" lengthAdjust="spacingAndGlyphs">4</tspan></text>
<text x="221.60" y="228.3" font-size="18.8" textLength="41.48" lengthAdjust="spacingAndGlyphs">FITC</text>
<path d="M322.2,16.9H354.4" stroke="#000" stroke-width="2.7"/>
<path d="M322.2,36.3H354.4" stroke="#111" stroke-width="1.3"/>
<path d="M321.6,55.3H354.2" stroke="#222" stroke-width="1.4" stroke-dasharray="1.3,0.8"/>
<path d="M322.4,74.2H352" stroke="#111" stroke-width="1.6" stroke-dasharray="8.3,3.3,1.8,3"/>
<path d="M322.4,93.7H354.6" stroke="#111" stroke-width="1.6" stroke-dasharray="8.5,3.3"/>
<text x="369.16" y="20.1" font-size="17.8" textLength="23.61" lengthAdjust="spacingAndGlyphs">FC</text>
<text y="40.2" font-size="17.8"><tspan x="369.08" y="40.2" font-size="17.8" textLength="27.45" lengthAdjust="spacingAndGlyphs">Mn</tspan><tspan x="396.78" y="37.0" font-size="13.0" textLength="13.19" lengthAdjust="spacingAndGlyphs">2+</tspan></text>
<text y="59.8" font-size="17.8"><tspan x="362.70" y="59.8" font-size="17.8" textLength="19.51" lengthAdjust="spacingAndGlyphs">50</tspan> <tspan x="387.90" y="59.8" font-size="17.8" textLength="56.16" lengthAdjust="spacingAndGlyphs">ng/mL</tspan> <tspan x="453.43" y="59.8" font-size="17.8" textLength="46.80" lengthAdjust="spacingAndGlyphs">ICAM</tspan></text>
<text y="78.1" font-size="17.8"><tspan x="362.40" y="78.1" font-size="17.8" textLength="29.31" lengthAdjust="spacingAndGlyphs">250</tspan> <tspan x="397.92" y="78.1" font-size="17.8" textLength="55.24" lengthAdjust="spacingAndGlyphs">ng/mL</tspan> <tspan x="462.62" y="78.1" font-size="17.8" textLength="46.91" lengthAdjust="spacingAndGlyphs">ICAM</tspan></text>
<text y="97.3" font-size="17.8"><tspan x="362.40" y="97.3" font-size="17.8" textLength="29.31" lengthAdjust="spacingAndGlyphs">500</tspan> <tspan x="397.92" y="97.3" font-size="17.8" textLength="55.24" lengthAdjust="spacingAndGlyphs">ng/mL</tspan> <tspan x="462.62" y="97.3" font-size="17.8" textLength="46.91" lengthAdjust="spacingAndGlyphs">ICAM</tspan></text>
</g>
<g id="panelB">
<text x="1.35" y="257.9" font-size="39" textLength="28.60" lengthAdjust="spacingAndGlyphs">B</text>
<text x="1.37" y="283.0" font-size="18.2" textLength="32.00" lengthAdjust="spacingAndGlyphs">128</text>
<text transform="translate(34.00,378.60) rotate(-90)" x="-0.91" y="0" font-size="18.8" textLength="62.07" lengthAdjust="spacingAndGlyphs">Events</text>
<text x="26.22" y="422.4" font-size="18" textLength="9.36" lengthAdjust="spacingAndGlyphs">0</text>
<path d="M38.6,388.0 L39.0,400.3 L40.7,400.7 L42.4,398.4 L44.1,396.6 L45.8,394.7 L47.5,395.7 L49.2,396.0 L50.9,395.5 L52.6,391.5 L54.3,388.6 L56.0,390.3 L57.7,392.5 L59.4,390.9 L61.1,384.2 L62.8,386.1 L64.5,389.4 L66.2,384.3 L67.9,385.5 L69.6,382.7 L71.3,380.9 L73.0,379.8 L74.7,374.8 L76.4,374.7 L78.1,374.3 L79.8,369.5 L81.5,366.3 L83.2,371.7 L84.9,365.2 L86.6,365.1 L88.3,360.6 L90.0,363.7 L91.7,360.1 L93.4,361.2 L95.1,362.5 L96.8,364.7 L98.5,362.4 L100.2,364.5 L101.9,366.1 L103.6,362.2 L105.3,367.6 L107.0,361.3 L108.7,363.3 L110.4,372.1 L112.1,365.9 L113.8,371.0 L115.5,369.5 L117.2,372.1 L118.9,380.6 L120.6,378.6 L122.3,381.7 L124.0,382.1 L125.7,390.3 L127.4,389.4 L129.1,396.1 L130.8,397.7 L132.5,401.4 L134.2,400.8 L135.9,404.2 L137.6,403.9 L139.3,407.0 L141.0,407.8 L142.7,408.7 L144.4,410.4 L146.1,410.6 L147.8,410.4 L149.5,411.4 L149.5,411.5 L38.6,411.5 Z" fill="#b0b0b0" stroke="none"/>
<path d="M38.6,388.0 L39.0,400.3 L40.7,400.7 L42.4,398.4 L44.1,396.6 L45.8,394.7 L47.5,395.7 L49.2,396.0 L50.9,395.5 L52.6,391.5 L54.3,388.6 L56.0,390.3 L57.7,392.5 L59.4,390.9 L61.1,384.2 L62.8,386.1 L64.5,389.4 L66.2,384.3 L67.9,385.5 L69.6,382.7 L71.3,380.9 L73.0,379.8 L74.7,374.8 L76.4,374.7 L78.1,374.3 L79.8,369.5 L81.5,366.3 L83.2,371.7 L84.9,365.2 L86.6,365.1 L88.3,360.6 L90.0,363.7 L91.7,360.1 L93.4,361.2 L95.1,362.5 L96.8,364.7 L98.5,362.4 L100.2,364.5 L101.9,366.1 L103.6,362.2 L105.3,367.6 L107.0,361.3 L108.7,363.3 L110.4,372.1 L112.1,365.9 L113.8,371.0 L115.5,369.5 L117.2,372.1 L118.9,380.6 L120.6,378.6 L122.3,381.7 L124.0,382.1 L125.7,390.3 L127.4,389.4 L129.1,396.1 L130.8,397.7 L132.5,401.4 L134.2,400.8 L135.9,404.2 L137.6,403.9 L139.3,407.0 L141.0,407.8 L142.7,408.7 L144.4,410.4 L146.1,410.6 L147.8,410.4 L149.5,411.4" fill="none" stroke="#444" stroke-width="0.9" stroke-linejoin="round"/>
<path d="M37.9,272.4V411.8" stroke="#444" stroke-width="1.25" fill="none"/>
<path d="M37.3,411.8H462.3" stroke="#1a1a1a" stroke-width="1.4" fill="none"/>
<path d="M37.9,272.6h-2.6M37.9,307.2h-2M37.9,342.5h-2M37.9,377h-2" stroke="#666" stroke-width="0.9" fill="none"/>
<path d="M38.0,411.5v3.0M69.9,411.5v2.3M88.5,411.5v2.3M101.8,411.5v2.3M112.0,411.5v2.3M120.4,411.5v2.3M127.5,411.5v2.3M133.6,411.5v2.3M139.1,411.5v2.3M143.9,411.5v3.0M175.8,411.5v2.3M194.4,411.5v2.3M207.7,411.5v2.3M217.9,411.5v2.3M226.3,411.5v2.3M233.4,411.5v2.3M239.5,411.5v2.3M245.0,411.5v2.3M249.8,411.5v3.0M281.7,411.5v2.3M300.3,411.5v2.3M313.6,411.5v2.3M323.8,411.5v2.3M332.2,411.5v2.3M339.3,411.5v2.3M345.4,411.5v2.3M350.9,411.5v2.3M355.7,411.5v3.0M387.6,411.5v2.3M406.2,411.5v2.3M419.5,411.5v2.3M429.7,411.5v2.3M438.1,411.5v2.3M445.2,411.5v2.3M451.3,411.5v2.3M456.8,411.5v2.3M461.6,411.5v3.0" stroke="#444" stroke-width="0.9" fill="none"/>
<path d="M38.5,411.4 L39.4,411.3 L40.3,411.5 L41.2,411.2 L42.1,411.5 L43.0,411.5 L43.9,411.5 L44.8,411.5 L45.7,411.5 L46.6,411.4 L47.5,411.4 L48.4,411.4 L49.3,411.5 L50.2,411.5 L51.1,411.2 L52.0,411.3 L52.9,411.1 L53.8,411.3 L54.7,411.5 L55.6,411.3 L56.5,411.4 L57.4,411.5 L58.3,411.5 L59.2,411.5 L60.1,411.5 L61.0,411.4 L61.9,411.5 L62.8,411.2 L63.7,411.5 L64.6,411.4 L65.5,411.4 L66.4,411.5 L67.3,411.5 L68.2,411.3 L69.1,411.4 L70.0,411.5 L70.9,411.4 L71.8,411.5 L72.7,411.5 L73.6,411.5 L74.5,411.5 L75.4,411.3 L76.3,411.5 L77.2,411.4 L78.1,411.5 L79.0,411.5 L79.9,411.5 L80.8,411.5 L81.7,411.5 L82.6,411.5 L83.5,411.5 L84.4,411.3 L85.3,411.3 L86.2,411.5 L87.1,411.0 L88.0,411.5 L88.9,411.3 L89.8,411.0 L90.7,410.8 L91.6,411.0 L92.5,410.7 L93.4,410.2 L94.3,410.2 L95.2,410.0 L96.1,409.1 L97.0,408.6 L97.9,408.8 L98.8,408.4 L99.7,408.1 L100.6,408.0 L101.5,407.6 L102.4,407.5 L103.3,405.8 L104.2,405.6 L105.1,405.0 L106.0,403.9 L106.9,402.8 L107.8,401.1 L108.7,401.8 L109.6,401.0 L110.5,399.4 L111.4,399.6 L112.3,396.2 L113.2,395.5 L114.1,394.6 L115.0,394.4 L115.9,391.9 L116.8,390.1 L117.7,389.4 L118.6,388.9 L119.5,389.5 L120.4,383.9 L121.3,384.3 L122.2,383.4 L123.1,378.9 L124.0,378.0 L124.9,379.3 L125.8,374.9 L126.7,373.2 L127.6,368.6 L128.5,372.1 L129.4,366.9 L130.3,364.1 L131.2,358.6 L132.1,361.7 L133.0,363.8 L133.9,358.3 L134.8,352.5 L135.7,349.1 L136.6,344.7 L137.5,345.7 L138.4,346.6 L139.3,340.3 L140.2,340.5 L141.1,339.1 L142.0,336.7 L142.9,331.7 L143.8,335.9 L144.7,334.9 L145.6,331.0 L146.5,329.8 L147.4,330.6 L148.3,329.7 L149.2,325.1 L150.1,321.4 L151.0,322.2 L151.9,321.3 L152.8,318.8 L153.7,327.2 L154.6,325.1 L155.5,322.1 L156.4,322.7 L157.3,321.4 L158.2,317.6 L159.1,321.1 L160.0,318.3 L160.9,323.0 L161.8,320.4 L162.7,314.7 L163.6,321.5 L164.5,320.7 L165.4,321.6 L166.3,327.0 L167.2,326.3 L168.1,329.5 L169.0,330.4 L169.9,336.6 L170.8,341.7 L171.7,343.9 L172.6,346.2 L173.5,347.1 L174.4,352.3 L175.3,356.0 L176.2,358.5 L177.1,358.9 L178.0,365.5 L178.9,364.4 L179.8,372.9 L180.7,374.6 L181.6,374.8 L182.5,378.1 L183.4,382.9 L184.3,383.9 L185.2,387.0 L186.1,386.8 L187.0,389.3 L187.9,393.0 L188.8,393.4 L189.7,396.1 L190.6,397.3 L191.5,398.6 L192.4,400.6 L193.3,400.8 L194.2,401.9 L195.1,403.1 L196.0,403.6 L196.9,405.7 L197.8,407.5 L198.7,407.6 L199.6,408.0 L200.5,408.8 L201.4,409.1 L202.3,409.4 L203.2,410.1 L204.1,410.3 L205.0,410.8 L205.9,410.4 L206.8,410.9 L207.7,411.3 L208.6,411.4 L209.5,411.4 L210.4,411.0 L211.3,411.2 L212.2,411.5 L213.1,411.5 L214.0,411.5 L214.9,411.4 L215.8,411.4 L216.7,411.5 L217.6,411.4 L218.5,411.5 L219.4,411.5 L220.3,411.5 L221.2,411.5 L222.1,411.3 L223.0,411.3 L223.9,411.5 L224.8,411.5 L225.7,411.5 L226.6,411.5 L227.5,411.5 L228.4,411.5 L229.3,411.5 L230.2,411.5 L231.1,411.5 L232.0,411.5 L232.9,411.5 L233.8,411.5 L234.7,411.5 L235.6,411.5 L236.5,411.4 L237.4,411.5 L238.3,411.5 L239.2,411.5 L240.1,411.5 L241.0,411.5 L241.9,411.5 L242.8,411.5 L243.7,411.5 L244.6,411.5 L245.5,411.4 L246.4,411.5 L247.3,411.3 L248.2,411.2 L249.1,411.5 L250.0,411.4 L250.9,411.2 L251.8,411.5 L252.7,411.5 L253.6,411.5 L254.5,411.5 L255.4,411.5 L256.3,411.5 L257.2,411.5 L258.1,411.5 L259.0,411.4 L259.9,411.5 L260.8,411.5 L261.7,411.5 L262.6,411.5 L263.5,411.5 L264.4,411.4 L265.3,411.5 L266.2,411.4 L267.1,411.3 L268.0,411.3 L268.9,411.5 L269.8,411.5 L270.7,411.5 L271.6,411.5 L272.5,411.3 L273.4,411.5 L274.3,411.5 L275.2,411.5 L276.1,411.3 L277.0,411.3 L277.9,411.5 L278.8,411.5 L279.7,411.5 L280.6,411.4 L281.5,411.4 L282.4,411.5 L283.3,411.5 L284.2,411.5 L285.1,411.3 L286.0,411.5 L286.9,411.5 L287.8,411.5 L288.7,411.5 L289.6,411.4 L290.5,411.5 L291.4,411.5 L292.3,411.5 L293.2,411.5 L294.1,411.3 L295.0,411.5 L295.9,411.5 L296.8,411.4 L297.7,411.5 L298.6,411.5 L299.5,411.3 L300.4,411.5 L301.3,411.3 L302.2,411.5 L303.1,411.5 L304.0,411.5 L304.9,411.5 L305.8,411.4 L306.7,411.4 L307.6,411.5 L308.5,411.3 L309.4,411.4 L310.3,411.5 L311.2,411.5 L312.1,411.5 L313.0,411.5 L313.9,411.4 L314.8,411.4 L315.7,411.5 L316.6,411.3 L317.5,411.5 L318.4,411.4 L319.3,411.4 L320.2,411.5 L321.1,411.5 L322.0,411.2 L322.9,411.5 L323.8,411.3 L324.7,411.5 L325.6,411.4 L326.5,411.5 L327.4,411.5 L328.3,411.5 L329.2,411.5 L330.1,411.3 L331.0,411.4 L331.9,411.4 L332.8,411.5 L333.7,411.2 L334.6,411.3 L335.5,411.4 L336.4,411.5 L337.3,411.4 L338.2,411.4 L339.1,411.5 L340.0,411.4 L340.9,411.4 L341.8,411.5 L342.7,411.4 L343.6,411.4 L344.5,411.4 L345.4,411.5 L346.3,411.5 L347.2,411.5 L348.1,411.3 L349.0,411.1 L349.9,411.5 L350.8,411.5 L351.7,411.5 L352.6,411.5 L353.5,411.5 L354.4,411.4 L355.3,411.5 L356.2,411.4 L357.1,411.4 L358.0,411.3 L358.9,411.2 L359.8,411.3 L360.7,411.1 L361.6,411.5 L362.5,411.5 L363.4,411.5 L364.3,411.4 L365.2,411.3 L366.1,411.5 L367.0,411.2 L367.9,411.3 L368.8,411.4 L369.7,411.4 L370.6,411.5 L371.5,411.5 L372.4,411.5 L373.3,411.4 L374.2,411.5 L375.1,411.5 L376.0,411.5 L376.9,411.2 L377.8,411.4 L378.7,411.4 L379.6,411.5 L380.5,411.4 L381.4,411.3 L382.3,411.4 L383.2,411.5 L384.1,411.5 L385.0,411.5 L385.9,411.5 L386.8,411.4 L387.7,411.5 L388.6,411.5 L389.5,411.3 L390.4,411.5 L391.3,411.4 L392.2,411.5 L393.1,411.5 L394.0,411.5 L394.9,411.5 L395.8,411.5 L396.7,411.5 L397.6,411.5 L398.5,411.3 L399.4,411.5 L400.3,411.5 L401.2,411.4 L402.1,411.5 L403.0,411.5 L403.9,411.2 L404.8,411.3 L405.7,411.5 L406.6,411.3 L407.5,411.4 L408.4,411.3 L409.3,411.5 L410.2,411.4 L411.1,411.2 L412.0,411.2 L412.9,411.2 L413.8,411.3 L414.7,411.3 L415.6,411.3 L416.5,411.5 L417.4,411.1 L418.3,411.5 L419.2,411.4 L420.1,411.5 L421.0,411.4 L421.9,411.5 L422.8,411.5 L423.7,411.5 L424.6,411.5 L425.5,411.5 L426.4,411.5 L427.3,411.4 L428.2,411.5 L429.1,411.5 L430.0,411.5 L430.9,411.5 L431.8,411.5 L432.7,411.5 L433.6,411.5 L434.5,411.5 L435.4,411.5 L436.3,411.4 L437.2,411.3 L438.1,411.3 L439.0,411.4 L439.9,411.5 L440.8,411.4 L441.7,411.4 L442.6,411.5 L443.5,411.5 L444.4,411.4 L445.3,411.3 L446.2,411.4 L447.1,411.5 L448.0,411.4 L448.9,411.5 L449.8,411.5 L450.7,411.4 L451.6,411.4 L452.5,411.5 L453.4,411.4 L454.3,411.5 L455.2,411.5 L456.1,411.4 L457.0,411.5 L457.9,411.4 L458.8,411.5 L459.7,411.3 L460.6,411.5" fill="none" stroke="#5a5a5a" stroke-width="0.9" stroke-linejoin="round" stroke-dasharray="5,1.6"/>
<path d="M38.5,411.5 L39.4,411.5 L40.3,411.5 L41.2,411.5 L42.1,411.3 L43.0,411.5 L43.9,411.3 L44.8,411.3 L45.7,411.5 L46.6,411.5 L47.5,411.4 L48.4,411.3 L49.3,411.1 L50.2,411.4 L51.1,411.2 L52.0,411.5 L52.9,411.5 L53.8,411.5 L54.7,411.5 L55.6,411.5 L56.5,411.5 L57.4,411.5 L58.3,411.4 L59.2,411.5 L60.1,411.5 L61.0,411.5 L61.9,411.2 L62.8,411.5 L63.7,411.5 L64.6,411.5 L65.5,411.2 L66.4,411.5 L67.3,411.3 L68.2,411.3 L69.1,411.5 L70.0,411.3 L70.9,411.5 L71.8,411.5 L72.7,411.5 L73.6,411.4 L74.5,411.4 L75.4,411.4 L76.3,411.5 L77.2,411.3 L78.1,411.3 L79.0,411.2 L79.9,411.3 L80.8,411.2 L81.7,411.2 L82.6,411.4 L83.5,411.4 L84.4,411.4 L85.3,411.4 L86.2,411.4 L87.1,411.5 L88.0,411.5 L88.9,411.4 L89.8,411.5 L90.7,411.5 L91.6,410.8 L92.5,411.4 L93.4,411.1 L94.3,410.7 L95.2,410.8 L96.1,410.7 L97.0,410.4 L97.9,410.1 L98.8,409.9 L99.7,409.3 L100.6,408.2 L101.5,408.5 L102.4,407.5 L103.3,407.6 L104.2,407.2 L105.1,406.9 L106.0,406.9 L106.9,405.9 L107.8,405.3 L108.7,405.7 L109.6,403.4 L110.5,402.7 L111.4,402.0 L112.3,402.0 L113.2,403.1 L114.1,398.0 L115.0,398.6 L115.9,400.0 L116.8,395.7 L117.7,396.2 L118.6,393.2 L119.5,392.9 L120.4,389.8 L121.3,389.6 L122.2,388.0 L123.1,386.6 L124.0,383.3 L124.9,385.6 L125.8,379.9 L126.7,379.0 L127.6,379.4 L128.5,376.5 L129.4,375.4 L130.3,372.3 L131.2,368.5 L132.1,369.4 L133.0,364.3 L133.9,361.6 L134.8,360.0 L135.7,355.7 L136.6,357.2 L137.5,353.4 L138.4,347.2 L139.3,350.7 L140.2,348.9 L141.1,346.5 L142.0,342.9 L142.9,343.8 L143.8,340.9 L144.7,342.9 L145.6,339.3 L146.5,337.6 L147.4,336.4 L148.3,333.2 L149.2,328.9 L150.1,330.6 L151.0,332.1 L151.9,326.7 L152.8,325.9 L153.7,329.3 L154.6,324.0 L155.5,326.5 L156.4,324.3 L157.3,323.7 L158.2,318.3 L159.1,322.0 L160.0,319.4 L160.9,317.0 L161.8,314.0 L162.7,313.7 L163.6,320.8 L164.5,315.6 L165.4,319.6 L166.3,318.9 L167.2,321.3 L168.1,327.9 L169.0,328.5 L169.9,331.6 L170.8,332.1 L171.7,331.6 L172.6,339.0 L173.5,344.2 L174.4,339.9 L175.3,351.9 L176.2,352.9 L177.1,356.1 L178.0,361.9 L178.9,360.6 L179.8,363.2 L180.7,368.6 L181.6,371.4 L182.5,374.7 L183.4,380.3 L184.3,379.4 L185.2,384.3 L186.1,386.0 L187.0,386.0 L187.9,387.4 L188.8,391.9 L189.7,391.2 L190.6,392.3 L191.5,396.0 L192.4,397.8 L193.3,398.9 L194.2,400.8 L195.1,402.4 L196.0,402.1 L196.9,403.2 L197.8,405.2 L198.7,406.1 L199.6,407.2 L200.5,408.0 L201.4,408.9 L202.3,409.7 L203.2,409.1 L204.1,410.0 L205.0,410.1 L205.9,409.7 L206.8,410.7 L207.7,410.6 L208.6,411.3 L209.5,411.2 L210.4,411.0 L211.3,411.4 L212.2,411.5 L213.1,411.5 L214.0,411.4 L214.9,411.5 L215.8,411.4 L216.7,411.5 L217.6,411.5 L218.5,411.5 L219.4,411.4 L220.3,411.5 L221.2,411.5 L222.1,411.4 L223.0,411.5 L223.9,411.5 L224.8,411.4 L225.7,411.4 L226.6,411.3 L227.5,411.5 L228.4,411.5 L229.3,411.5 L230.2,411.4 L231.1,411.5 L232.0,411.5 L232.9,411.5 L233.8,411.5 L234.7,411.5 L235.6,411.1 L236.5,411.5 L237.4,411.5 L238.3,411.5 L239.2,411.5 L240.1,411.5 L241.0,411.2 L241.9,411.5 L242.8,411.2 L243.7,411.4 L244.6,411.5 L245.5,411.5 L246.4,411.5 L247.3,411.5 L248.2,411.3 L249.1,411.4 L250.0,411.4 L250.9,411.5 L251.8,411.4 L252.7,411.5 L253.6,411.1 L254.5,411.5 L255.4,411.5 L256.3,411.4 L257.2,411.5 L258.1,411.5 L259.0,411.5 L259.9,411.4 L260.8,411.5 L261.7,411.5 L262.6,411.4 L263.5,411.5 L264.4,411.5 L265.3,411.5 L266.2,411.5 L267.1,411.5 L268.0,411.3 L268.9,411.5 L269.8,411.5 L270.7,411.5 L271.6,411.4 L272.5,411.5 L273.4,411.5 L274.3,411.5 L275.2,411.1 L276.1,411.5 L277.0,411.5 L277.9,411.3 L278.8,411.4 L279.7,411.5 L280.6,411.3 L281.5,411.5 L282.4,411.5 L283.3,411.5 L284.2,411.3 L285.1,411.5 L286.0,411.1 L286.9,411.4 L287.8,411.4 L288.7,411.5 L289.6,411.5 L290.5,411.5 L291.4,411.4 L292.3,411.5 L293.2,411.5 L294.1,411.4 L295.0,411.4 L295.9,411.5 L296.8,411.4 L297.7,411.3 L298.6,411.3 L299.5,411.5 L300.4,411.5 L301.3,411.5 L302.2,411.4 L303.1,411.5 L304.0,411.5 L304.9,411.5 L305.8,411.4 L306.7,411.5 L307.6,411.5 L308.5,411.5 L309.4,411.5 L310.3,411.5 L311.2,411.5 L312.1,411.5 L313.0,411.5 L313.9,411.5 L314.8,411.5 L315.7,411.5 L316.6,411.2 L317.5,411.5 L318.4,411.5 L319.3,411.5 L320.2,411.4 L321.1,411.5 L322.0,411.5 L322.9,411.5 L323.8,411.4 L324.7,411.4 L325.6,411.5 L326.5,411.3 L327.4,411.5 L328.3,411.4 L329.2,411.5 L330.1,411.4 L331.0,411.2 L331.9,411.5 L332.8,411.5 L333.7,411.5 L334.6,411.3 L335.5,411.3 L336.4,411.5 L337.3,411.4 L338.2,411.2 L339.1,411.4 L340.0,411.5 L340.9,411.5 L341.8,411.5 L342.7,411.4 L343.6,411.5 L344.5,411.3 L345.4,411.5 L346.3,411.2 L347.2,411.5 L348.1,411.3 L349.0,411.5 L349.9,411.3 L350.8,411.2 L351.7,411.2 L352.6,411.3 L353.5,411.5 L354.4,411.5 L355.3,411.5 L356.2,411.3 L357.1,411.3 L358.0,411.3 L358.9,411.5 L359.8,411.0 L360.7,411.5 L361.6,411.4 L362.5,411.5 L363.4,411.5 L364.3,411.3 L365.2,411.3 L366.1,411.5 L367.0,411.5 L367.9,411.3 L368.8,411.5 L369.7,411.4 L370.6,411.5 L371.5,411.4 L372.4,411.5 L373.3,411.3 L374.2,411.5 L375.1,411.5 L376.0,411.5 L376.9,411.5 L377.8,411.5 L378.7,411.5 L379.6,411.5 L380.5,411.4 L381.4,411.5 L382.3,411.3 L383.2,411.4 L384.1,411.4 L385.0,411.5 L385.9,411.4 L386.8,411.3 L387.7,411.4 L388.6,411.3 L389.5,411.3 L390.4,411.5 L391.3,411.4 L392.2,411.4 L393.1,411.5 L394.0,411.5 L394.9,411.5 L395.8,411.5 L396.7,411.2 L397.6,411.3 L398.5,411.5 L399.4,411.5 L400.3,411.5 L401.2,411.5 L402.1,411.5 L403.0,411.2 L403.9,411.5 L404.8,411.5 L405.7,411.5 L406.6,411.4 L407.5,411.5 L408.4,411.5 L409.3,411.5 L410.2,411.4 L411.1,411.5 L412.0,411.5 L412.9,411.5 L413.8,411.2 L414.7,411.5 L415.6,411.4 L416.5,411.2 L417.4,411.5 L418.3,411.3 L419.2,411.3 L420.1,411.5 L421.0,411.3 L421.9,411.2 L422.8,411.5 L423.7,411.5 L424.6,411.5 L425.5,411.5 L426.4,411.5 L427.3,411.5 L428.2,411.2 L429.1,411.5 L430.0,411.5 L430.9,411.3 L431.8,411.3 L432.7,411.4 L433.6,411.5 L434.5,411.5 L435.4,411.5 L436.3,411.2 L437.2,411.4 L438.1,411.5 L439.0,411.4 L439.9,411.5 L440.8,411.5 L441.7,411.5 L442.6,411.5 L443.5,411.5 L444.4,411.5 L445.3,411.5 L446.2,411.5 L447.1,411.4 L448.0,411.5 L448.9,411.5 L449.8,411.5 L450.7,411.5 L451.6,411.5 L452.5,411.5 L453.4,411.5 L454.3,411.1 L455.2,411.5 L456.1,411.5 L457.0,411.5 L457.9,411.4 L458.8,411.3 L459.7,411.5 L460.6,411.5" fill="none" stroke="#5a5a5a" stroke-width="0.9" stroke-linejoin="round" stroke-dasharray="4,1.6,1.2,1.6"/>
<path d="M38.5,411.4 L39.4,411.5 L40.3,411.5 L41.2,411.5 L42.1,411.4 L43.0,411.5 L43.9,411.4 L44.8,411.4 L45.7,411.4 L46.6,411.4 L47.5,411.5 L48.4,411.5 L49.3,411.5 L50.2,411.3 L51.1,411.5 L52.0,411.5 L52.9,411.5 L53.8,411.5 L54.7,411.5 L55.6,411.5 L56.5,411.5 L57.4,411.5 L58.3,411.5 L59.2,411.5 L60.1,411.5 L61.0,411.5 L61.9,411.3 L62.8,411.5 L63.7,411.5 L64.6,411.0 L65.5,411.5 L66.4,411.5 L67.3,411.5 L68.2,411.2 L69.1,411.2 L70.0,411.5 L70.9,411.4 L71.8,411.5 L72.7,411.5 L73.6,411.5 L74.5,411.3 L75.4,411.5 L76.3,411.5 L77.2,411.5 L78.1,411.2 L79.0,411.3 L79.9,411.5 L80.8,411.5 L81.7,411.3 L82.6,411.5 L83.5,411.5 L84.4,411.5 L85.3,411.5 L86.2,411.5 L87.1,411.5 L88.0,411.5 L88.9,411.5 L89.8,411.3 L90.7,411.5 L91.6,411.4 L92.5,411.5 L93.4,411.4 L94.3,411.5 L95.2,411.5 L96.1,411.3 L97.0,411.3 L97.9,411.1 L98.8,411.5 L99.7,411.5 L100.6,411.5 L101.5,411.5 L102.4,411.5 L103.3,411.1 L104.2,411.3 L105.1,411.5 L106.0,410.7 L106.9,411.0 L107.8,410.8 L108.7,410.7 L109.6,410.4 L110.5,410.0 L111.4,410.7 L112.3,410.0 L113.2,409.9 L114.1,408.9 L115.0,409.7 L115.9,408.2 L116.8,408.5 L117.7,407.7 L118.6,408.7 L119.5,407.6 L120.4,407.5 L121.3,408.2 L122.2,407.0 L123.1,406.7 L124.0,406.5 L124.9,405.8 L125.8,405.7 L126.7,404.3 L127.6,402.9 L128.5,403.1 L129.4,403.1 L130.3,399.7 L131.2,400.2 L132.1,398.9 L133.0,398.2 L133.9,397.5 L134.8,394.9 L135.7,394.7 L136.6,392.2 L137.5,392.2 L138.4,390.3 L139.3,386.2 L140.2,380.1 L141.1,380.4 L142.0,374.9 L142.9,375.1 L143.8,372.8 L144.7,372.6 L145.6,369.4 L146.5,363.6 L147.4,362.6 L148.3,364.1 L149.2,361.6 L150.1,355.5 L151.0,357.4 L151.9,352.1 L152.8,354.3 L153.7,348.8 L154.6,344.9 L155.5,344.7 L156.4,344.4 L157.3,342.9 L158.2,341.8 L159.1,340.0 L160.0,335.3 L160.9,333.8 L161.8,334.2 L162.7,337.3 L163.6,334.1 L164.5,330.8 L165.4,330.4 L166.3,333.3 L167.2,327.0 L168.1,320.8 L169.0,330.6 L169.9,326.3 L170.8,321.3 L171.7,326.3 L172.6,325.6 L173.5,323.4 L174.4,321.6 L175.3,323.7 L176.2,319.1 L177.1,326.5 L178.0,318.4 L178.9,318.5 L179.8,319.6 L180.7,317.9 L181.6,319.4 L182.5,317.0 L183.4,324.0 L184.3,325.2 L185.2,331.5 L186.1,333.5 L187.0,333.8 L187.9,339.9 L188.8,340.9 L189.7,345.4 L190.6,346.9 L191.5,349.1 L192.4,350.9 L193.3,361.0 L194.2,360.4 L195.1,361.2 L196.0,363.2 L196.9,366.3 L197.8,374.8 L198.7,375.9 L199.6,376.8 L200.5,378.8 L201.4,382.4 L202.3,384.6 L203.2,386.5 L204.1,389.8 L205.0,390.1 L205.9,390.8 L206.8,393.9 L207.7,393.4 L208.6,399.6 L209.5,397.8 L210.4,396.8 L211.3,398.8 L212.2,399.3 L213.1,401.5 L214.0,403.5 L214.9,403.7 L215.8,402.8 L216.7,406.3 L217.6,406.3 L218.5,407.5 L219.4,407.4 L220.3,407.9 L221.2,408.0 L222.1,409.3 L223.0,408.6 L223.9,409.5 L224.8,410.4 L225.7,410.8 L226.6,411.2 L227.5,410.8 L228.4,410.4 L229.3,411.1 L230.2,411.4 L231.1,411.2 L232.0,411.4 L232.9,411.5 L233.8,411.5 L234.7,411.4 L235.6,411.1 L236.5,411.3 L237.4,411.3 L238.3,411.5 L239.2,411.4 L240.1,411.3 L241.0,411.5 L241.9,411.5 L242.8,411.5 L243.7,411.3 L244.6,411.5 L245.5,411.4 L246.4,411.4 L247.3,411.4 L248.2,411.4 L249.1,411.5 L250.0,411.5 L250.9,411.5 L251.8,411.5 L252.7,411.5 L253.6,411.5 L254.5,411.5 L255.4,411.5 L256.3,411.4 L257.2,411.5 L258.1,411.5 L259.0,411.3 L259.9,411.2 L260.8,411.5 L261.7,411.3 L262.6,411.5 L263.5,411.1 L264.4,411.2 L265.3,411.3 L266.2,411.5 L267.1,411.5 L268.0,411.4 L268.9,411.5 L269.8,411.5 L270.7,411.4 L271.6,411.5 L272.5,411.5 L273.4,411.5 L274.3,411.5 L275.2,411.5 L276.1,411.5 L277.0,411.5 L277.9,411.5 L278.8,411.3 L279.7,411.4 L280.6,411.5 L281.5,411.4 L282.4,411.3 L283.3,411.4 L284.2,411.5 L285.1,411.4 L286.0,411.4 L286.9,411.5 L287.8,411.5 L288.7,411.5 L289.6,411.3 L290.5,411.3 L291.4,411.5 L292.3,411.2 L293.2,411.3 L294.1,411.5 L295.0,411.5 L295.9,411.5 L296.8,411.5 L297.7,411.3 L298.6,411.4 L299.5,411.5 L300.4,411.5 L301.3,411.4 L302.2,411.5 L303.1,411.5 L304.0,411.4 L304.9,411.3 L305.8,411.4 L306.7,411.5 L307.6,411.3 L308.5,411.5 L309.4,411.5 L310.3,411.5 L311.2,411.2 L312.1,411.1 L313.0,411.5 L313.9,411.4 L314.8,411.4 L315.7,411.3 L316.6,411.3 L317.5,411.4 L318.4,411.5 L319.3,411.5 L320.2,411.5 L321.1,411.5 L322.0,411.5 L322.9,411.5 L323.8,411.5 L324.7,411.5 L325.6,411.5 L326.5,411.5 L327.4,411.4 L328.3,411.5 L329.2,411.5 L330.1,411.5 L331.0,411.4 L331.9,411.5 L332.8,411.4 L333.7,411.5 L334.6,411.4 L335.5,411.5 L336.4,411.1 L337.3,411.5 L338.2,411.5 L339.1,411.2 L340.0,411.5 L340.9,411.5 L341.8,411.4 L342.7,411.5 L343.6,411.4 L344.5,411.5 L345.4,411.5 L346.3,411.5 L347.2,411.3 L348.1,411.4 L349.0,411.5 L349.9,411.4 L350.8,411.5 L351.7,411.5 L352.6,411.5 L353.5,411.5 L354.4,411.4 L355.3,411.5 L356.2,411.4 L357.1,411.5 L358.0,411.5 L358.9,411.5 L359.8,411.5 L360.7,411.4 L361.6,411.3 L362.5,411.4 L363.4,411.5 L364.3,411.5 L365.2,411.5 L366.1,411.5 L367.0,411.5 L367.9,411.5 L368.8,411.4 L369.7,411.4 L370.6,411.5 L371.5,411.5 L372.4,411.5 L373.3,411.5 L374.2,411.4 L375.1,411.5 L376.0,411.5 L376.9,411.4 L377.8,411.2 L378.7,411.5 L379.6,411.2 L380.5,411.5 L381.4,411.5 L382.3,411.3 L383.2,411.5 L384.1,411.5 L385.0,411.4 L385.9,411.3 L386.8,411.5 L387.7,411.5 L388.6,411.5 L389.5,411.5 L390.4,411.5 L391.3,411.5 L392.2,411.3 L393.1,411.4 L394.0,411.3 L394.9,411.4 L395.8,411.5 L396.7,411.4 L397.6,411.5 L398.5,411.4 L399.4,411.3 L400.3,411.5 L401.2,411.3 L402.1,411.5 L403.0,411.5 L403.9,411.5 L404.8,411.5 L405.7,411.4 L406.6,411.5 L407.5,411.5 L408.4,411.5 L409.3,411.5 L410.2,411.3 L411.1,411.5 L412.0,411.5 L412.9,411.3 L413.8,411.5 L414.7,411.0 L415.6,411.5 L416.5,411.5 L417.4,411.4 L418.3,411.4 L419.2,411.5 L420.1,411.5 L421.0,411.4 L421.9,411.5 L422.8,411.4 L423.7,411.4 L424.6,411.5 L425.5,411.3 L426.4,411.5 L427.3,411.4 L428.2,411.5 L429.1,411.4 L430.0,411.5 L430.9,411.1 L431.8,411.5 L432.7,411.2 L433.6,411.4 L434.5,411.2 L435.4,411.5 L436.3,411.4 L437.2,411.5 L438.1,411.5 L439.0,411.3 L439.9,411.4 L440.8,411.4 L441.7,411.5 L442.6,411.4 L443.5,411.5 L444.4,411.5 L445.3,411.3 L446.2,411.3 L447.1,411.5 L448.0,411.5 L448.9,411.5 L449.8,411.5 L450.7,411.5 L451.6,411.5 L452.5,411.4 L453.4,411.5 L454.3,411.5 L455.2,411.3 L456.1,411.2 L457.0,411.2 L457.9,411.4 L458.8,411.5 L459.7,411.4 L460.6,411.2" fill="none" stroke="#5a5a5a" stroke-width="0.9" stroke-linejoin="round" stroke-dasharray="1.6,1.6"/>
<path d="M38.5,411.3 L39.4,411.4 L40.3,411.5 L41.2,411.5 L42.1,411.5 L43.0,411.5 L43.9,411.4 L44.8,411.5 L45.7,411.3 L46.6,411.5 L47.5,411.5 L48.4,411.4 L49.3,411.4 L50.2,411.5 L51.1,411.2 L52.0,411.4 L52.9,411.5 L53.8,411.5 L54.7,411.5 L55.6,411.4 L56.5,411.5 L57.4,411.4 L58.3,411.5 L59.2,411.3 L60.1,411.5 L61.0,411.3 L61.9,411.5 L62.8,411.5 L63.7,411.5 L64.6,411.5 L65.5,411.2 L66.4,411.4 L67.3,411.3 L68.2,411.5 L69.1,411.5 L70.0,411.5 L70.9,411.3 L71.8,411.5 L72.7,411.5 L73.6,411.2 L74.5,411.5 L75.4,411.5 L76.3,411.5 L77.2,411.5 L78.1,411.4 L79.0,411.3 L79.9,411.5 L80.8,411.5 L81.7,411.4 L82.6,411.2 L83.5,411.5 L84.4,411.5 L85.3,411.5 L86.2,411.5 L87.1,411.5 L88.0,411.5 L88.9,411.4 L89.8,411.5 L90.7,411.5 L91.6,411.5 L92.5,411.5 L93.4,411.5 L94.3,411.3 L95.2,411.5 L96.1,411.5 L97.0,411.5 L97.9,411.4 L98.8,411.5 L99.7,411.5 L100.6,411.5 L101.5,411.4 L102.4,411.5 L103.3,411.4 L104.2,411.5 L105.1,411.5 L106.0,411.5 L106.9,411.2 L107.8,411.5 L108.7,411.5 L109.6,411.5 L110.5,411.5 L111.4,411.5 L112.3,411.5 L113.2,411.5 L114.1,411.3 L115.0,411.5 L115.9,411.4 L116.8,411.5 L117.7,411.4 L118.6,411.5 L119.5,411.5 L120.4,411.5 L121.3,411.5 L122.2,411.4 L123.1,411.5 L124.0,411.5 L124.9,411.5 L125.8,411.5 L126.7,411.5 L127.6,411.4 L128.5,411.5 L129.4,411.5 L130.3,411.5 L131.2,411.4 L132.1,411.2 L133.0,410.7 L133.9,411.5 L134.8,411.1 L135.7,411.0 L136.6,410.9 L137.5,411.1 L138.4,411.0 L139.3,410.7 L140.2,411.1 L141.1,411.0 L142.0,411.0 L142.9,410.8 L143.8,410.4 L144.7,411.1 L145.6,410.4 L146.5,411.4 L147.4,410.5 L148.3,410.7 L149.2,410.1 L150.1,410.2 L151.0,410.1 L151.9,410.1 L152.8,410.1 L153.7,410.9 L154.6,409.9 L155.5,410.5 L156.4,409.3 L157.3,409.8 L158.2,409.2 L159.1,409.1 L160.0,408.4 L160.9,407.9 L161.8,407.2 L162.7,407.8 L163.6,405.3 L164.5,406.6 L165.4,405.4 L166.3,406.8 L167.2,403.8 L168.1,402.5 L169.0,401.6 L169.9,401.6 L170.8,400.9 L171.7,401.4 L172.6,400.5 L173.5,399.6 L174.4,398.6 L175.3,399.3 L176.2,397.7 L177.1,396.0 L178.0,395.6 L178.9,395.1 L179.8,395.1 L180.7,392.8 L181.6,391.9 L182.5,389.1 L183.4,390.0 L184.3,387.4 L185.2,389.5 L186.1,383.5 L187.0,386.6 L187.9,382.5 L188.8,380.5 L189.7,378.3 L190.6,375.2 L191.5,372.9 L192.4,369.1 L193.3,366.3 L194.2,362.4 L195.1,360.3 L196.0,357.5 L196.9,358.6 L197.8,359.8 L198.7,351.4 L199.6,353.9 L200.5,359.5 L201.4,350.6 L202.3,351.3 L203.2,351.3 L204.1,349.6 L205.0,346.6 L205.9,347.2 L206.8,343.2 L207.7,342.7 L208.6,341.2 L209.5,338.2 L210.4,337.0 L211.3,332.3 L212.2,333.8 L213.1,336.3 L214.0,332.4 L214.9,326.5 L215.8,324.9 L216.7,330.5 L217.6,325.4 L218.5,328.1 L219.4,327.6 L220.3,331.3 L221.2,331.9 L222.1,328.7 L223.0,327.7 L223.9,327.7 L224.8,332.0 L225.7,331.0 L226.6,330.7 L227.5,332.1 L228.4,339.8 L229.3,335.8 L230.2,333.4 L231.1,333.0 L232.0,337.7 L232.9,333.5 L233.8,344.9 L234.7,335.1 L235.6,341.4 L236.5,341.0 L237.4,345.3 L238.3,348.4 L239.2,349.0 L240.1,351.2 L241.0,357.1 L241.9,355.9 L242.8,361.7 L243.7,363.4 L244.6,367.6 L245.5,369.7 L246.4,370.7 L247.3,375.4 L248.2,373.6 L249.1,379.2 L250.0,378.2 L250.9,382.8 L251.8,383.1 L252.7,385.6 L253.6,384.3 L254.5,385.2 L255.4,389.8 L256.3,390.0 L257.2,391.8 L258.1,392.5 L259.0,393.5 L259.9,393.9 L260.8,397.2 L261.7,400.4 L262.6,398.8 L263.5,400.9 L264.4,401.5 L265.3,400.9 L266.2,401.3 L267.1,403.3 L268.0,402.9 L268.9,404.2 L269.8,404.5 L270.7,405.7 L271.6,405.2 L272.5,407.0 L273.4,407.0 L274.3,406.9 L275.2,408.4 L276.1,408.0 L277.0,408.2 L277.9,408.3 L278.8,408.1 L279.7,410.2 L280.6,408.9 L281.5,409.3 L282.4,409.1 L283.3,409.5 L284.2,410.2 L285.1,410.3 L286.0,410.6 L286.9,409.9 L287.8,410.7 L288.7,410.4 L289.6,410.7 L290.5,411.4 L291.4,410.9 L292.3,410.9 L293.2,410.4 L294.1,410.9 L295.0,411.2 L295.9,411.1 L296.8,410.7 L297.7,410.8 L298.6,410.8 L299.5,410.8 L300.4,411.2 L301.3,410.8 L302.2,411.0 L303.1,411.5 L304.0,411.2 L304.9,410.8 L305.8,411.3 L306.7,411.2 L307.6,411.1 L308.5,411.1 L309.4,411.2 L310.3,411.0 L311.2,411.4 L312.1,411.5 L313.0,411.2 L313.9,411.2 L314.8,411.0 L315.7,410.7 L316.6,411.1 L317.5,411.0 L318.4,410.8 L319.3,411.0 L320.2,411.4 L321.1,411.5 L322.0,411.5 L322.9,411.5 L323.8,411.5 L324.7,411.3 L325.6,411.4 L326.5,411.5 L327.4,411.5 L328.3,411.4 L329.2,411.4 L330.1,411.5 L331.0,411.5 L331.9,411.5 L332.8,411.4 L333.7,411.5 L334.6,411.5 L335.5,411.3 L336.4,411.5 L337.3,411.5 L338.2,411.5 L339.1,411.5 L340.0,411.3 L340.9,411.5 L341.8,411.4 L342.7,411.4 L343.6,411.5 L344.5,411.2 L345.4,411.3 L346.3,411.5 L347.2,411.5 L348.1,411.5 L349.0,411.5 L349.9,411.5 L350.8,411.3 L351.7,411.5 L352.6,411.5 L353.5,411.2 L354.4,411.2 L355.3,411.5 L356.2,411.5 L357.1,411.3 L358.0,411.5 L358.9,411.5 L359.8,411.5 L360.7,411.4 L361.6,411.5 L362.5,411.2 L363.4,411.5 L364.3,411.5 L365.2,411.5 L366.1,411.4 L367.0,411.5 L367.9,411.1 L368.8,411.5 L369.7,411.5 L370.6,411.3 L371.5,411.2 L372.4,411.5 L373.3,411.4 L374.2,411.5 L375.1,411.5 L376.0,411.4 L376.9,411.4 L377.8,411.4 L378.7,411.4 L379.6,411.4 L380.5,411.5 L381.4,411.5 L382.3,411.5 L383.2,411.5 L384.1,411.5 L385.0,411.5 L385.9,411.4 L386.8,411.1 L387.7,411.4 L388.6,411.1 L389.5,411.5 L390.4,411.5 L391.3,411.5 L392.2,411.3 L393.1,411.1 L394.0,411.3 L394.9,411.4 L395.8,411.4 L396.7,411.5 L397.6,411.4 L398.5,411.4 L399.4,411.5 L400.3,411.5 L401.2,411.4 L402.1,411.5 L403.0,411.5 L403.9,411.3 L404.8,411.5 L405.7,411.4 L406.6,411.5 L407.5,411.5 L408.4,411.5 L409.3,411.5 L410.2,411.4 L411.1,411.5 L412.0,411.5 L412.9,411.5 L413.8,411.5 L414.7,411.5 L415.6,411.2 L416.5,411.5 L417.4,411.3 L418.3,411.3 L419.2,411.4 L420.1,411.5 L421.0,411.5 L421.9,411.5 L422.8,411.4 L423.7,411.5 L424.6,411.5 L425.5,411.2 L426.4,411.5 L427.3,411.5 L428.2,411.4 L429.1,411.5 L430.0,411.4 L430.9,411.4 L431.8,411.4 L432.7,411.5 L433.6,411.5 L434.5,411.3 L435.4,411.4 L436.3,411.5 L437.2,411.5 L438.1,411.2 L439.0,411.5 L439.9,411.5 L440.8,411.3 L441.7,411.5 L442.6,411.5 L443.5,411.4 L444.4,411.5 L445.3,411.4 L446.2,411.4 L447.1,411.4 L448.0,411.5 L448.9,411.2 L449.8,411.5 L450.7,411.5 L451.6,411.4 L452.5,411.5 L453.4,411.5 L454.3,411.3 L455.2,411.5 L456.1,411.5 L457.0,411.4 L457.9,411.5 L458.8,411.3 L459.7,411.3 L460.6,411.3" fill="none" stroke="#555" stroke-width="0.9" stroke-linejoin="round"/>
<path d="M134.0,410.6 L134.9,410.6 L135.8,410.7 L136.7,411.1 L137.6,410.5 L138.5,410.1 L139.4,410.0 L140.3,410.2 L141.2,409.2 L142.1,409.0 L143.0,409.4 L143.9,409.1 L144.8,408.3 L145.7,408.4 L146.6,407.8 L147.5,406.9 L148.4,406.5 L149.3,406.9 L150.2,406.4 L151.1,406.0 L152.0,405.2 L152.9,404.7 L153.8,404.5 L154.7,403.3 L155.6,403.2 L156.5,402.6 L157.4,403.4 L158.3,402.4 L159.2,401.2 L160.1,399.6 L161.0,399.8 L161.9,397.1 L162.8,397.4 L163.7,396.4 L164.6,395.7 L165.5,394.4 L166.4,393.1 L167.3,393.6 L168.2,390.6 L169.1,392.0 L170.0,389.7 L170.9,389.5 L171.8,388.6 L172.7,386.8 L173.6,386.4 L174.5,383.9 L175.4,385.4 L176.3,383.4 L177.2,382.4 L178.1,379.6 L179.0,379.2 L179.9,379.2 L180.8,376.9 L181.7,376.7 L182.6,377.6 L183.5,374.8 L184.4,372.0 L185.3,372.5 L186.2,367.3 L187.1,366.4 L188.0,365.3 L188.9,361.1 L189.8,362.0 L190.7,358.7 L191.6,357.7 L192.5,353.7 L193.4,354.9 L194.3,354.6 L195.2,350.2 L196.1,350.5 L197.0,349.8 L197.9,348.6 L198.8,344.7 L199.7,345.3 L200.6,346.0 L201.5,338.7 L202.4,342.0 L203.3,338.6 L204.2,339.3 L205.1,338.0 L206.0,341.4 L206.9,340.2 L207.8,337.4 L208.7,338.3 L209.6,337.5 L210.5,335.2 L211.4,341.2 L212.3,337.2 L213.2,333.6 L214.1,337.3 L215.0,336.3 L215.9,335.6 L216.8,335.7 L217.7,335.7 L218.6,338.5 L219.5,336.8 L220.4,339.5 L221.3,336.6 L222.2,342.2 L223.1,342.3 L224.0,344.7 L224.9,343.9 L225.8,347.2 L226.7,347.8 L227.6,351.5 L228.5,352.8 L229.4,355.3 L230.3,355.6 L231.2,357.4 L232.1,360.4 L233.0,362.1 L233.9,361.5 L234.8,363.7 L235.7,366.1 L236.6,368.1 L237.5,370.1 L238.4,370.1 L239.3,372.7 L240.2,374.6 L241.1,376.1 L242.0,377.6 L242.9,379.0 L243.8,380.0 L244.7,383.6 L245.6,383.1 L246.5,385.5 L247.4,385.9 L248.3,385.4 L249.2,390.1 L250.1,390.6 L251.0,391.0 L251.9,393.9 L252.8,390.4 L253.7,394.4 L254.6,393.4 L255.5,395.9 L256.4,395.8 L257.3,397.0 L258.2,398.7 L259.1,398.8 L260.0,400.4 L260.9,401.0 L261.8,400.3 L262.7,402.6 L263.6,403.3 L264.5,401.6 L265.4,404.1 L266.3,404.3 L267.2,404.0 L268.1,405.7 L269.0,406.2 L269.9,405.4 L270.8,406.8 L271.7,407.0 L272.6,407.5 L273.5,407.4 L274.4,408.6 L275.3,408.2 L276.2,408.1 L277.1,408.4 L278.0,409.2 L278.9,409.0 L279.8,408.7 L280.7,409.6 L281.6,409.6 L282.5,410.0 L283.4,410.6 L284.3,410.0 L285.2,410.5 L286.1,410.5 L287.0,410.3 L287.9,410.4 L288.8,410.5 L289.7,410.2 L290.6,410.5 L291.5,410.5 L292.4,410.9 L293.3,410.4 L294.2,411.0 L295.1,411.2 L296.0,410.9 L296.9,410.6 L297.8,410.7 L298.7,410.5 L299.6,410.7 L300.5,410.8 L301.4,410.8 L302.3,411.0 L303.2,411.0 L304.1,411.0 L305.0,410.9 L305.9,411.1 L306.8,411.0 L307.7,410.9 L308.6,411.0 L309.5,411.0 L310.4,411.0 L311.3,411.3 L312.2,411.3 L313.1,411.2 L314.0,410.9 L314.9,410.9 L315.8,411.0 L316.7,411.0 L317.6,411.0 L318.5,411.5 L319.4,411.2 L320.3,411.0 L321.2,410.9 L322.1,411.1 L323.0,410.9 L323.9,411.0 L324.8,411.2 L325.7,411.4 L326.6,411.4 L327.5,411.2 L328.4,411.2 L329.3,411.3 L330.2,411.2 L331.1,411.2 L332.0,411.3 L332.9,411.2 L333.8,411.2 L334.7,411.5 L335.6,411.5 L336.5,411.2 L337.4,411.2 L338.3,411.3 L339.2,411.3 L340.1,411.5 L341.0,411.4 L341.9,411.5 L342.8,411.5 L343.7,411.5 L344.6,411.4 L345.5,411.5 L346.4,411.2 L347.3,411.5 L348.2,411.5 L349.1,411.1 L350.0,411.5 L350.9,411.5 L351.8,411.5 L352.7,411.4 L353.6,411.5 L354.5,411.5 L355.4,411.4 L356.3,411.3 L357.2,411.4 L358.1,411.5 L359.0,411.5 L359.9,411.4 L360.8,411.2 L361.7,411.5 L362.6,411.5 L363.5,411.5 L364.4,411.4 L365.3,411.4 L366.2,411.5 L367.1,411.5 L368.0,411.3 L368.9,411.4 L369.8,411.3 L370.7,411.5 L371.6,411.4 L372.5,411.5 L373.4,411.3 L374.3,411.5 L375.2,411.5 L376.1,411.4 L377.0,411.5 L377.9,411.5 L378.8,411.4 L379.7,411.5 L380.6,411.3 L381.5,411.5 L382.4,411.4 L383.3,411.5 L384.2,411.5 L385.1,411.5 L386.0,411.5 L386.9,411.5 L387.8,411.5 L388.7,411.5 L389.6,411.5 L390.5,411.5 L391.4,411.3 L392.3,411.5 L393.2,411.5 L394.1,411.5 L395.0,411.4 L395.9,411.5 L396.8,411.3 L397.7,411.5 L398.6,411.5 L399.5,411.5 L400.4,411.4 L401.3,411.5 L402.2,411.3 L403.1,411.5 L404.0,411.5 L404.9,411.5 L405.8,411.4 L406.7,411.4 L407.6,411.4 L408.5,411.5 L409.4,411.5 L410.3,411.5 L411.2,411.5 L412.1,411.5 L413.0,411.5 L413.9,411.4 L414.8,411.4 L415.7,411.5 L416.6,411.5 L417.5,411.5 L418.4,411.5 L419.3,411.5 L420.2,411.5 L421.1,411.5 L422.0,411.5 L422.9,411.3 L423.8,411.5 L424.7,411.5 L425.6,411.4 L426.5,411.5 L427.4,411.5 L428.3,411.5 L429.2,411.5 L430.1,411.4 L431.0,411.5 L431.9,411.3 L432.8,411.5 L433.7,411.4 L434.6,411.5 L435.5,411.5 L436.4,411.5 L437.3,411.4 L438.2,411.5 L439.1,411.3 L440.0,411.5 L440.9,411.4 L441.8,411.4 L442.7,411.4 L443.6,411.5 L444.5,411.4 L445.4,411.5 L446.3,411.5 L447.2,411.1 L448.1,409.9 L449.0,408.9 L449.9,409.9 L450.8,410.9 L451.7,411.4 L452.6,411.5 L453.5,411.5 L454.4,411.4 L455.3,411.3 L456.2,411.5 L457.1,411.5 L458.0,411.5 L458.9,411.5 L459.8,411.5 L460.7,411.4" fill="none" stroke="#000" stroke-width="1.8" stroke-linejoin="round"/>
<text y="434.9" font-size="18"><tspan x="32.45" y="434.9" font-size="18" textLength="19.87" lengthAdjust="spacingAndGlyphs">10</tspan><tspan x="52.92" y="431.0" font-size="13.0" textLength="7.55" lengthAdjust="spacingAndGlyphs">0</tspan></text>
<text y="434.9" font-size="18"><tspan x="134.94" y="434.9" font-size="18" textLength="20.09" lengthAdjust="spacingAndGlyphs">10</tspan><tspan x="155.77" y="430.8" font-size="13.0" textLength="5.62" lengthAdjust="spacingAndGlyphs">1</tspan></text>
<text y="435.0" font-size="18"><tspan x="229.94" y="435.0" font-size="18" textLength="20.09" lengthAdjust="spacingAndGlyphs">10</tspan><tspan x="251.06" y="431.5" font-size="11.2" textLength="6.75" lengthAdjust="spacingAndGlyphs">2</tspan></text>
<text y="434.9" font-size="18"><tspan x="338.31" y="434.9" font-size="18" textLength="20.63" lengthAdjust="spacingAndGlyphs">10</tspan><tspan x="360.00" y="431.4" font-size="13.0" textLength="6.40" lengthAdjust="spacingAndGlyphs">3</tspan></text>
<text y="435.1" font-size="18"><tspan x="453.77" y="435.1" font-size="18" textLength="19.54" lengthAdjust="spacingAndGlyphs">10</tspan><tspan x="473.90" y="431.4" font-size="13.0" textLength="7.03" lengthAdjust="spacingAndGlyphs">4</tspan></text>
<text x="223.10" y="453.7" font-size="18.6" textLength="41.48" lengthAdjust="spacingAndGlyphs">FITC</text>
</g>
<g id="panelC">
<text x="0.27" y="480.8" font-size="38.5" textLength="26.32" lengthAdjust="spacingAndGlyphs">C</text>
<text x="2.00" y="509.7" font-size="18.2" textLength="31.37" lengthAdjust="spacingAndGlyphs">128</text>
<text transform="translate(33.50,592.70) rotate(-90)" x="-0.91" y="0" font-size="18.8" textLength="62.07" lengthAdjust="spacingAndGlyphs">Events</text>
<text x="20.33" y="636.8" font-size="18" textLength="9.25" lengthAdjust="spacingAndGlyphs">0</text>
<path d="M38.5,607.7 L39.5,607.5 L40.5,607.5 L41.5,610.7 L42.5,607.5 L43.5,607.8 L44.5,605.8 L45.5,605.4 L46.5,602.3 L47.5,605.3 L48.5,598.9 L49.5,599.3 L50.5,602.4 L51.5,599.1 L52.5,598.9 L53.5,603.1 L54.5,597.4 L55.5,599.5 L56.5,598.4 L57.5,598.8 L58.5,598.0 L59.5,596.6 L60.5,596.2 L61.5,599.8 L62.5,596.5 L63.5,598.7 L64.5,598.2 L65.5,595.7 L66.5,592.6 L67.5,593.0 L68.5,596.0 L69.5,596.3 L70.5,596.8 L71.5,594.8 L72.5,593.3 L73.5,595.8 L74.5,594.6 L75.5,596.0 L76.5,594.0 L77.5,602.6 L78.5,603.4 L79.5,599.4 L80.5,597.6 L81.5,599.6 L82.5,597.3 L83.5,600.4 L84.5,600.2 L85.5,598.7 L86.5,595.2 L87.5,596.1 L88.5,600.2 L89.5,599.4 L90.5,602.5 L91.5,602.4 L92.5,605.8 L93.5,604.7 L94.5,607.1 L95.5,606.9 L96.5,609.2 L97.5,610.6 L98.5,610.1 L99.5,612.0 L100.5,612.5 L101.5,614.4 L102.5,614.1 L103.5,617.3 L104.5,616.4 L105.5,616.9 L106.5,619.9 L107.5,618.7 L108.5,619.4 L109.5,621.8 L110.5,624.1 L111.5,625.0 L112.5,624.6 L113.5,624.0 L114.5,625.1 L115.5,625.2 L116.5,625.9 L117.5,626.2 L118.5,625.9 L119.5,626.5 L120.5,626.3 L121.5,626.1 L121.5,626.5 L38.5,626.5 Z" fill="#c4c8c8" stroke="none"/>
<path d="M37.5,627.0v3.0M69.1,627.0v2.3M87.6,627.0v2.3M100.7,627.0v2.3M110.8,627.0v2.3M119.1,627.0v2.3M126.2,627.0v2.3M132.2,627.0v2.3M137.6,627.0v2.3M142.4,627.0v3.0M174.0,627.0v2.3M192.5,627.0v2.3M205.6,627.0v2.3M215.7,627.0v2.3M224.0,627.0v2.3M231.1,627.0v2.3M237.1,627.0v2.3M242.5,627.0v2.3M247.3,627.0v3.0M278.9,627.0v2.3M297.4,627.0v2.3M310.5,627.0v2.3M320.6,627.0v2.3M328.9,627.0v2.3M336.0,627.0v2.3M342.0,627.0v2.3M347.4,627.0v2.3M352.2,627.0v3.0M383.8,627.0v2.3M402.3,627.0v2.3M415.4,627.0v2.3M425.5,627.0v2.3M433.8,627.0v2.3M440.9,627.0v2.3M446.9,627.0v2.3M452.3,627.0v2.3M457.1,627.0v3.0" stroke="#222" stroke-width="0.9" fill="none"/>
<path d="M112.0,626.2 L113.2,625.6 L114.3,625.5 L115.5,625.1 L116.6,625.7 L117.8,624.5 L118.9,624.7 L120.1,624.9 L121.2,624.7 L122.4,624.3 L123.5,623.5 L124.7,621.9 L125.8,621.5 L127.0,621.9 L128.1,621.3 L129.3,618.8 L130.4,618.8 L131.6,619.3 L132.7,617.9 L133.9,617.2 L135.0,615.9 L136.2,614.3 L137.3,614.7 L138.5,613.3 L139.6,612.4 L140.8,611.4 L141.9,612.3 L143.1,611.0 L144.2,607.6 L145.4,609.4 L146.5,608.3 L147.7,606.8 L148.8,607.2 L150.0,606.0 L151.1,602.0 L152.3,601.3 L153.4,603.6 L154.6,600.5 L155.7,601.0 L156.9,599.6 L158.0,594.8 L159.2,589.7 L160.3,590.0 L161.5,584.5 L162.6,586.8 L163.8,582.0 L164.9,580.0 L166.1,578.0 L167.2,574.2 L168.4,573.2 L169.5,573.9 L170.7,574.0 L171.8,570.6 L173.0,567.8 L174.1,567.4 L175.3,568.3 L176.4,567.4 L177.6,559.8 L178.7,559.7 L179.9,560.3 L181.0,556.5 L182.2,555.1 L183.3,555.8 L184.5,555.5 L185.6,550.7 L186.8,550.7 L187.9,548.4 L189.1,548.9 L190.2,550.3 L191.4,551.8 L192.5,551.4 L193.7,552.1 L194.8,550.4 L196.0,550.2 L197.1,547.8 L198.3,547.5 L199.4,551.3 L200.6,550.6 L201.7,555.2 L202.9,554.5 L204.0,556.7 L205.2,555.4 L206.3,559.2 L207.5,562.1 L208.6,562.6 L209.8,569.0 L210.9,566.6 L212.1,567.1 L213.2,567.1 L214.4,574.3 L215.5,574.3 L216.7,579.5 L217.8,573.9 L219.0,578.9 L220.1,579.7 L221.3,585.0 L222.4,584.1 L223.6,586.6 L224.7,589.4 L225.9,591.0 L227.0,592.3 L228.2,593.8 L229.3,597.0 L230.5,593.5 L231.6,597.6 L232.8,599.1 L233.9,601.0 L235.1,603.3 L236.2,604.9 L237.4,605.7 L238.5,608.5 L239.7,608.1 L240.8,611.5 L242.0,611.4 L243.1,615.1 L244.3,615.2 L245.4,616.2 L246.6,616.8 L247.7,617.8 L248.9,620.7 L250.0,621.2 L251.2,620.5 L252.3,622.5 L253.5,623.8 L254.6,622.8 L255.8,623.5 L256.9,624.8 L258.1,624.9 L259.2,624.4 L260.4,625.4 L261.5,625.6 L262.7,625.7 L263.8,625.3 L265.0,626.3 L266.1,625.8 L267.3,626.0 L268.4,626.0 L269.6,626.0 L270.7,626.2 L271.9,626.2 L273.0,626.2 L274.2,626.0 L275.3,626.5 L276.5,626.5 L277.6,626.5 L278.8,626.5 L279.9,626.3 L281.1,626.4 L282.2,626.5 L283.4,626.5 L284.5,626.4 L285.7,626.5 L286.8,626.5 L288.0,626.4 L289.1,626.5" fill="none" stroke="#7aeee2" stroke-width="2.0" stroke-linejoin="round"/>
<path d="M37,626.7H262" stroke="#0a0a14" stroke-width="1.7" fill="none"/>
<path d="M38.5,607.7 L39.5,607.5 L40.5,607.5 L41.5,610.7 L42.5,607.5 L43.5,607.8 L44.5,605.8 L45.5,605.4 L46.5,602.3 L47.5,605.3 L48.5,598.9 L49.5,599.3 L50.5,602.4 L51.5,599.1 L52.5,598.9 L53.5,603.1 L54.5,597.4 L55.5,599.5 L56.5,598.4 L57.5,598.8 L58.5,598.0 L59.5,596.6 L60.5,596.2 L61.5,599.8 L62.5,596.5 L63.5,598.7 L64.5,598.2 L65.5,595.7 L66.5,592.6 L67.5,593.0 L68.5,596.0 L69.5,596.3 L70.5,596.8 L71.5,594.8 L72.5,593.3 L73.5,595.8 L74.5,594.6 L75.5,596.0 L76.5,594.0 L77.5,602.6 L78.5,603.4 L79.5,599.4 L80.5,597.6 L81.5,599.6 L82.5,597.3 L83.5,600.4 L84.5,600.2 L85.5,598.7 L86.5,595.2 L87.5,596.1 L88.5,600.2 L89.5,599.4 L90.5,602.5 L91.5,602.4 L92.5,605.8 L93.5,604.7 L94.5,607.1 L95.5,606.9 L96.5,609.2 L97.5,610.6 L98.5,610.1 L99.5,612.0 L100.5,612.5 L101.5,614.4 L102.5,614.1 L103.5,617.3 L104.5,616.4 L105.5,616.9 L106.5,619.9 L107.5,618.7 L108.5,619.4 L109.5,621.8 L110.5,624.1 L111.5,625.0 L112.5,624.6 L113.5,624.0 L114.5,625.1 L115.5,625.2 L116.5,625.9 L117.5,626.2 L118.5,625.9 L119.5,626.5 L120.5,626.3 L121.5,626.1" fill="none" stroke="#000" stroke-width="1.8" stroke-linejoin="round"/>
<path d="M80.0,626.4 L81.2,626.5 L82.3,626.4 L83.5,626.3 L84.6,626.5 L85.8,626.5 L86.9,626.5 L88.1,626.4 L89.2,626.1 L90.4,626.2 L91.5,625.5 L92.7,625.2 L93.8,625.2 L95.0,624.6 L96.1,624.5 L97.3,624.9 L98.4,624.0 L99.6,624.3 L100.7,623.0 L101.9,623.2 L103.0,622.9 L104.2,622.8 L105.3,621.1 L106.5,621.5 L107.6,621.1 L108.8,620.3 L109.9,618.9 L111.1,618.2 L112.2,617.3 L113.4,616.4 L114.5,613.8 L115.7,615.2 L116.8,614.2 L118.0,613.4 L119.1,610.6 L120.3,608.7 L121.4,608.9 L122.6,608.7 L123.7,607.5 L124.9,604.2 L126.0,603.0 L127.2,602.2 L128.3,602.9 L129.5,600.6 L130.6,599.7 L131.8,598.4 L132.9,596.1 L134.1,595.8 L135.2,593.6 L136.4,592.8 L137.5,590.3 L138.7,587.3 L139.8,588.7 L141.0,584.0 L142.1,581.7 L143.3,579.7 L144.4,576.7 L145.6,570.8 L146.7,574.2 L147.9,568.4 L149.0,572.8 L150.2,568.1 L151.3,565.3 L152.5,562.7 L153.6,560.6 L154.8,558.5 L155.9,559.2 L157.1,557.1 L158.2,551.2 L159.4,551.5 L160.5,552.2 L161.7,550.1 L162.8,548.3 L164.0,542.7 L165.1,539.1 L166.3,535.3 L167.4,542.7 L168.6,544.0 L169.7,544.4 L170.9,548.2 L172.0,547.2 L173.2,550.8 L174.3,550.5 L175.5,551.0 L176.6,553.5 L177.8,549.6 L178.9,552.7 L180.1,552.0 L181.2,551.6 L182.4,552.7 L183.5,554.0 L184.7,559.1 L185.8,563.6 L187.0,566.3 L188.1,572.7 L189.3,574.6 L190.4,576.6 L191.6,578.2 L192.7,577.4 L193.9,582.2 L195.0,583.3 L196.2,582.1 L197.3,587.5 L198.5,587.5 L199.6,592.6 L200.8,593.3 L201.9,596.4 L203.1,597.1 L204.2,596.8 L205.4,602.3 L206.5,600.4 L207.7,602.0 L208.8,604.5 L210.0,606.9 L211.1,605.9 L212.3,607.9 L213.4,608.2 L214.6,609.7 L215.7,609.1 L216.9,612.6 L218.0,614.6 L219.2,614.5 L220.3,615.5 L221.5,615.4 L222.6,616.8 L223.8,618.0 L224.9,617.8 L226.1,620.7 L227.2,620.9 L228.4,621.7 L229.5,621.9 L230.7,623.0 L231.8,622.2 L233.0,623.2 L234.1,624.2 L235.3,624.3 L236.4,623.9 L237.6,623.9 L238.7,623.7 L239.9,623.5 L241.0,624.8 L242.2,625.5 L243.3,626.1 L244.5,625.4 L245.6,625.9 L246.8,625.9 L247.9,626.1 L249.1,626.1 L250.2,625.9 L251.4,626.2 L252.5,626.5 L253.7,626.5 L254.8,626.5 L256.0,626.5 L257.1,626.5 L258.3,626.2 L259.4,626.5 L260.6,626.3 L261.7,626.5" fill="none" stroke="#000" stroke-width="1.6" stroke-linejoin="round"/>
<path d="M38.6,616.8 L39.8,616.2 L40.9,617.3 L42.0,617.4 L43.2,618.3 L44.3,615.2 L45.5,615.9 L46.6,615.4 L47.8,616.1 L48.9,613.7 L50.1,613.6 L51.2,614.3 L52.4,614.4 L53.5,613.8 L54.7,614.0 L55.8,612.8 L57.0,613.2 L58.1,611.6 L59.3,612.4 L60.4,612.2 L61.6,609.8 L62.7,612.2 L63.9,612.9 L65.0,610.3 L66.2,613.0 L67.3,609.7 L68.5,608.4 L69.6,608.9 L70.8,608.3 L71.9,610.3 L73.1,606.0 L74.2,605.4 L75.4,606.7 L76.5,601.4 L77.7,605.0 L78.8,604.8 L80.0,604.2 L81.1,600.5 L82.3,599.0 L83.4,597.8 L84.6,598.0 L85.7,597.5 L86.9,593.4 L88.0,594.9 L89.2,594.0 L90.3,587.7 L91.5,588.3 L92.6,586.2 L93.8,584.2 L94.9,584.8 L96.1,582.9 L97.2,578.7 L98.4,579.6 L99.5,575.9 L100.7,575.3 L101.8,576.3 L103.0,570.4 L104.1,574.3 L105.3,569.8 L106.4,569.2 L107.6,565.5 L108.7,570.3 L109.9,568.3 L111.0,566.7 L112.2,565.6 L113.3,563.5 L114.5,564.4 L115.6,565.0 L116.8,562.6 L117.9,560.4 L119.1,568.9 L120.2,566.2 L121.4,564.9 L122.5,567.1 L123.7,564.8 L124.8,569.8 L126.0,572.4 L127.1,569.2 L128.3,578.4 L129.4,574.5 L130.6,569.7 L131.7,576.1 L132.9,576.8 L134.0,580.9 L135.2,580.3 L136.3,581.9 L137.5,579.3 L138.6,586.3 L139.8,591.0 L140.9,586.1 L142.1,585.2 L143.2,590.4 L144.4,593.4 L145.5,592.9 L146.7,591.1 L147.8,593.8 L149.0,593.9 L150.1,599.2 L151.3,597.6 L152.4,597.4 L153.6,601.2 L154.7,604.4 L155.9,603.5 L157.0,605.5 L158.2,609.0 L159.3,610.9 L160.5,609.9 L161.6,613.4 L162.8,614.2 L163.9,613.3 L165.1,615.9 L166.2,617.3 L167.4,619.3 L168.5,618.1 L169.7,618.8 L170.8,619.8 L172.0,619.0 L173.1,621.2 L174.3,621.9 L175.4,621.7 L176.6,621.7 L177.7,623.1 L178.9,623.3 L180.0,623.5 L181.2,623.5 L182.3,624.2 L183.5,623.7 L184.6,625.5 L185.8,624.5 L186.9,625.2 L188.1,625.0 L189.2,624.7 L190.4,625.7 L191.5,625.8 L192.7,625.8 L193.8,626.5 L195.0,626.1 L196.1,626.4 L197.3,626.5 L198.4,626.4 L199.6,626.5 L200.7,626.5 L201.9,626.5 L203.0,626.4 L204.2,626.2 L205.3,626.5 L206.5,626.5 L207.6,626.5 L208.8,626.5 L209.9,626.5 L211.1,626.5 L212.2,626.5 L213.4,626.4 L214.5,626.4" fill="none" stroke="#63f22a" stroke-width="2.2" stroke-linejoin="round"/>
<path d="M38.6,623.2 L39.8,623.4 L40.9,622.8 L42.0,621.8 L43.2,621.6 L44.3,621.3 L45.5,621.6 L46.6,621.7 L47.8,620.4 L48.9,620.8 L50.1,619.4 L51.2,619.6 L52.4,620.1 L53.5,619.1 L54.7,618.5 L55.8,618.7 L57.0,619.3 L58.1,618.2 L59.3,618.0 L60.4,617.4 L61.6,617.3 L62.7,618.6 L63.9,618.1 L65.0,616.9 L66.2,618.8 L67.3,616.3 L68.5,617.6 L69.6,616.9 L70.8,614.7 L71.9,615.8 L73.1,615.6 L74.2,614.6 L75.4,614.5 L76.5,614.7 L77.7,613.3 L78.8,610.9 L80.0,611.8 L81.1,612.0 L82.3,611.8 L83.4,610.7 L84.6,610.4 L85.7,611.6 L86.9,609.3 L88.0,609.1 L89.2,606.0 L90.3,607.6 L91.5,604.6 L92.6,606.9 L93.8,603.7 L94.9,604.1 L96.1,603.2 L97.2,599.4 L98.4,600.9 L99.5,598.1 L100.7,597.6 L101.8,594.2 L103.0,592.8 L104.1,595.4 L105.3,588.4 L106.4,588.9 L107.6,581.9 L108.7,582.0 L109.9,579.8 L111.0,584.7 L112.2,574.3 L113.3,576.0 L114.5,577.1 L115.6,571.7 L116.8,567.6 L117.9,572.3 L119.1,564.6 L120.2,566.2 L121.4,565.4 L122.5,563.9 L123.7,563.9 L124.8,560.6 L126.0,559.7 L127.1,557.0 L128.3,555.5 L129.4,559.0 L130.6,555.0 L131.7,559.9 L132.9,555.0 L134.0,558.7 L135.2,557.0 L136.3,553.7 L137.5,556.6 L138.6,553.2 L139.8,557.7 L140.9,555.7 L142.1,552.8 L143.2,551.0 L144.4,558.4 L145.5,552.8 L146.7,557.1 L147.8,553.4 L149.0,561.2 L150.1,563.5 L151.3,563.6 L152.4,568.9 L153.6,568.3 L154.7,570.7 L155.9,569.6 L157.0,573.7 L158.2,578.9 L159.3,580.9 L160.5,582.1 L161.6,586.1 L162.8,588.1 L163.9,581.9 L165.1,589.2 L166.2,587.2 L167.4,592.6 L168.5,593.8 L169.7,597.8 L170.8,594.7 L172.0,599.1 L173.1,597.6 L174.3,602.7 L175.4,601.2 L176.6,602.3 L177.7,607.7 L178.9,606.3 L180.0,609.4 L181.2,610.6 L182.3,610.1 L183.5,610.3 L184.6,610.7 L185.8,613.5 L186.9,612.9 L188.1,614.1 L189.2,615.4 L190.4,617.0 L191.5,616.8 L192.7,614.3 L193.8,618.9 L195.0,618.8 L196.1,620.0 L197.3,618.9 L198.4,619.2 L199.6,620.2 L200.7,620.4 L201.9,622.4 L203.0,621.8 L204.2,623.7 L205.3,622.8 L206.5,623.2 L207.6,624.6 L208.8,624.2 L209.9,625.3 L211.1,625.7 L212.2,625.9 L213.4,626.0 L214.5,626.1 L215.7,625.9 L216.8,625.5 L218.0,626.2 L219.1,626.4 L220.3,626.1 L221.4,626.3 L222.6,626.5 L223.7,626.4 L224.9,626.4 L226.0,626.5 L227.2,626.5" fill="none" stroke="#d0142c" stroke-width="1.5" stroke-linejoin="round"/>
<path d="M38.6,624.7 L39.8,624.4 L40.9,623.6 L42.0,622.9 L43.2,623.1 L44.3,622.5 L45.5,622.0 L46.6,621.6 L47.8,622.4 L48.9,621.2 L50.1,621.3 L51.2,621.5 L52.4,621.4 L53.5,620.9 L54.7,621.3 L55.8,621.5 L57.0,620.3 L58.1,619.6 L59.3,620.3 L60.4,619.5 L61.6,620.3 L62.7,620.7 L63.9,621.1 L65.0,620.4 L66.2,618.5 L67.3,619.7 L68.5,620.8 L69.6,619.1 L70.8,619.2 L71.9,618.9 L73.1,618.7 L74.2,618.5 L75.4,617.7 L76.5,618.7 L77.7,617.7 L78.8,616.6 L80.0,615.1 L81.1,615.0 L82.3,613.2 L83.4,613.4 L84.6,616.2 L85.7,613.1 L86.9,611.9 L88.0,612.1 L89.2,613.7 L90.3,611.2 L91.5,610.9 L92.6,608.5 L93.8,606.5 L94.9,606.2 L96.1,607.4 L97.2,603.7 L98.4,603.6 L99.5,600.9 L100.7,601.5 L101.8,599.4 L103.0,598.6 L104.1,597.5 L105.3,593.4 L106.4,593.0 L107.6,592.5 L108.7,594.3 L109.9,591.8 L111.0,589.2 L112.2,586.8 L113.3,589.8 L114.5,583.6 L115.6,586.1 L116.8,584.9 L117.9,579.0 L119.1,581.0 L120.2,577.8 L121.4,575.2 L122.5,574.8 L123.7,577.3 L124.8,575.1 L126.0,574.0 L127.1,570.7 L128.3,569.7 L129.4,566.9 L130.6,567.2 L131.7,565.2 L132.9,567.0 L134.0,566.5 L135.2,568.7 L136.3,565.9 L137.5,567.7 L138.6,564.9 L139.8,558.7 L140.9,561.1 L142.1,561.1 L143.2,561.1 L144.4,561.9 L145.5,560.9 L146.7,558.5 L147.8,564.1 L149.0,563.7 L150.1,565.1 L151.3,564.6 L152.4,558.7 L153.6,561.7 L154.7,562.7 L155.9,571.6 L157.0,573.0 L158.2,569.1 L159.3,574.6 L160.5,573.4 L161.6,578.5 L162.8,574.6 L163.9,578.9 L165.1,581.0 L166.2,576.0 L167.4,583.1 L168.5,587.3 L169.7,588.8 L170.8,586.6 L172.0,592.4 L173.1,589.7 L174.3,596.2 L175.4,595.4 L176.6,599.3 L177.7,597.2 L178.9,598.6 L180.0,601.2 L181.2,603.8 L182.3,605.7 L183.5,606.4 L184.6,609.1 L185.8,609.6 L186.9,608.0 L188.1,611.3 L189.2,611.8 L190.4,611.1 L191.5,613.3 L192.7,614.5 L193.8,614.3 L195.0,615.6 L196.1,616.4 L197.3,617.3 L198.4,616.8 L199.6,617.2 L200.7,621.2 L201.9,618.2 L203.0,619.6 L204.2,621.0 L205.3,620.6 L206.5,622.7 L207.6,621.9 L208.8,621.8 L209.9,623.2 L211.1,624.7 L212.2,623.7 L213.4,624.3 L214.5,623.7 L215.7,624.2 L216.8,624.0 L218.0,625.1 L219.1,625.0 L220.3,625.3 L221.4,625.9 L222.6,625.8 L223.7,625.3 L224.9,626.3 L226.0,626.1 L227.2,626.3 L228.3,626.4 L229.5,626.5 L230.6,626.3 L231.8,626.5 L232.9,626.5 L234.1,626.5 L235.2,626.4 L236.4,626.5 L237.5,626.4 L238.7,626.5 L239.8,626.5" fill="none" stroke="#1a22e6" stroke-width="1.6" stroke-linejoin="round"/>
<path d="M248,626.8H456.5" stroke="#1f7a6a" stroke-width="1.6" fill="none"/>
<path d="M262,625.7H456.5" stroke="#74e6d6" stroke-width="0.9" fill="none"/>
<path d="M262.0,625.9 L262.9,625.8 L263.8,623.9 L264.7,624.9 L265.6,625.7 L266.5,626.2 L267.4,626.0 L268.3,625.3 L269.2,624.7 L270.1,625.4 L271.0,626.2 L271.9,624.7 L272.8,626.2 L273.7,625.5 L274.6,624.6 L275.5,625.2 L276.4,625.4 L277.3,625.7 L278.2,626.2 L279.1,625.6 L280.0,624.3 L280.9,625.2 L281.8,626.2 L282.7,624.9 L283.6,625.7 L284.5,626.3 L285.4,625.7 L286.3,626.1 L287.2,626.3 L288.1,625.1 L289.0,624.9 L289.9,625.9 L290.8,625.6 L291.7,625.5 L292.6,625.8 L293.5,626.1 L294.4,625.5 L295.3,625.7 L296.2,625.5 L297.1,624.7 L298.0,625.4 L298.9,626.2 L299.8,625.6 L300.7,624.9 L301.6,626.0 L302.5,626.2 L303.4,626.0 L304.3,625.2 L305.2,625.2 L306.1,625.7 L307.0,626.3 L307.9,626.0 L308.8,625.7 L309.7,625.7 L310.6,624.7 L311.5,626.2 L312.4,626.1 L313.3,625.4 L314.2,626.1 L315.1,626.1 L316.0,625.6 L316.9,626.3 L317.8,626.3 L318.7,623.0 L319.6,625.8 L320.5,625.2 L321.4,625.9 L322.3,626.2 L323.2,625.9 L324.1,626.0 L325.0,626.3 L325.9,626.1 L326.8,626.0 L327.7,626.0 L328.6,626.0 L329.5,626.2 L330.4,625.4 L331.3,625.1 L332.2,626.3 L333.1,626.0 L334.0,625.1 L334.9,626.2 L335.8,626.1 L336.7,626.0 L337.6,626.2 L338.5,625.1 L339.4,625.5 L340.3,625.3 L341.2,625.5 L342.1,625.9 L343.0,626.0 L343.9,625.7 L344.8,624.4 L345.7,625.1 L346.6,625.3 L347.5,625.4 L348.4,625.2 L349.3,626.1 L350.2,625.5 L351.1,626.3 L352.0,625.2 L352.9,624.0 L353.8,625.8 L354.7,625.4 L355.6,625.2 L356.5,624.9 L357.4,626.1 L358.3,624.9 L359.2,623.9 L360.1,625.7 L361.0,624.9 L361.9,626.1 L362.8,625.1 L363.7,625.5 L364.6,625.6 L365.5,626.1 L366.4,625.9 L367.3,625.3 L368.2,626.0 L369.1,625.9 L370.0,626.3 L370.9,626.0 L371.8,625.2 L372.7,625.3 L373.6,626.2 L374.5,626.0 L375.4,624.5 L376.3,625.7 L377.2,624.9 L378.1,626.2 L379.0,626.1 L379.9,626.1 L380.8,626.1 L381.7,624.8 L382.6,626.3 L383.5,625.9 L384.4,625.5 L385.3,626.3 L386.2,625.7 L387.1,626.1 L388.0,625.1 L388.9,626.1 L389.8,624.8 L390.7,625.9 L391.6,626.3 L392.5,626.3 L393.4,625.9 L394.3,626.3 L395.2,626.2 L396.1,625.0 L397.0,625.6 L397.9,626.0 L398.8,626.2 L399.7,625.9 L400.6,625.0 L401.5,625.4 L402.4,625.0 L403.3,626.0 L404.2,625.0 L405.1,626.0 L406.0,625.3 L406.9,625.2 L407.8,625.5 L408.7,625.2 L409.6,625.0 L410.5,626.2 L411.4,626.2 L412.3,625.0 L413.2,624.6 L414.1,625.0 L415.0,624.2 L415.9,625.4 L416.8,624.4 L417.7,626.0 L418.6,625.2 L419.5,625.6 L420.4,624.5 L421.3,625.9 L422.2,625.8 L423.1,625.9 L424.0,625.8 L424.9,625.3 L425.8,625.6 L426.7,626.1 L427.6,626.3 L428.5,626.2 L429.4,625.9 L430.3,625.6 L431.2,625.7 L432.1,624.8 L433.0,625.6 L433.9,626.2 L434.8,625.6 L435.7,626.1 L436.6,625.5 L437.5,626.1 L438.4,625.8 L439.3,626.2 L440.2,625.1 L441.1,625.7 L442.0,625.9 L442.9,625.6 L443.8,626.2 L444.7,625.5 L445.6,626.3 L446.5,626.1 L447.4,625.9 L448.3,625.2 L449.2,626.0 L450.1,623.7 L451.0,626.1 L451.9,625.7 L452.8,625.9 L453.7,626.3 L454.6,626.2 L455.5,625.5" fill="none" stroke="#0a1a18" stroke-width="0.9" stroke-dasharray="2.5,6,1.5,4,3.5,8,2,5" stroke-linejoin="round"/>
<path d="M440.6,626.5L442.6,622.8L444,623.4L445.8,626.5Z" fill="#12332e" stroke="#2aa592" stroke-width="0.6"/>
<path d="M38,524V627.5" stroke="#16168c" stroke-width="2.8"/>
<path d="M38.3,494V526" stroke="#2d9c2d" stroke-width="1.8"/>
<path d="M37.4,494V512" stroke="#0a0a0a" stroke-width="1.5"/>
<text y="649.4" font-size="18"><tspan x="32.67" y="649.4" font-size="18" textLength="19.65" lengthAdjust="spacingAndGlyphs">10</tspan><tspan x="53.12" y="645.6" font-size="13.0" textLength="7.55" lengthAdjust="spacingAndGlyphs">0</tspan></text>
<text y="649.4" font-size="18"><tspan x="134.94" y="649.4" font-size="18" textLength="20.09" lengthAdjust="spacingAndGlyphs">10</tspan><tspan x="155.87" y="645.6" font-size="13.0" textLength="5.62" lengthAdjust="spacingAndGlyphs">1</tspan></text>
<text y="649.4" font-size="18"><tspan x="230.37" y="649.4" font-size="18" textLength="19.65" lengthAdjust="spacingAndGlyphs">10</tspan><tspan x="251.06" y="645.9" font-size="11.2" textLength="6.75" lengthAdjust="spacingAndGlyphs">2</tspan></text>
<text y="649.7" font-size="18"><tspan x="338.31" y="649.7" font-size="18" textLength="20.63" lengthAdjust="spacingAndGlyphs">10</tspan><tspan x="360.00" y="645.8000000000001" font-size="13.0" textLength="6.40" lengthAdjust="spacingAndGlyphs">3</tspan></text>
<text y="649.7" font-size="18"><tspan x="453.77" y="649.7" font-size="18" textLength="19.54" lengthAdjust="spacingAndGlyphs">10</tspan><tspan x="473.90" y="646.2" font-size="13.0" textLength="7.03" lengthAdjust="spacingAndGlyphs">4</tspan></text>
<text x="223.10" y="668.5" font-size="18.6" textLength="41.48" lengthAdjust="spacingAndGlyphs">FITC</text>
<path d="M298.8,495H330.2" stroke="#000" stroke-width="2.2"/>
<path d="M298.8,518.8H330.2" stroke="#8ef0e8" stroke-width="2.2"/>
<path d="M298.8,539.5H330.2" stroke="#1414d8" stroke-width="2.2"/>
<path d="M298.8,558.8H330.2" stroke="#e01010" stroke-width="2.2"/>
<path d="M298.8,577.5H330.2" stroke="#5ee81a" stroke-width="2.2"/>
<text y="504.4" font-size="17.8"><tspan x="344.80" y="504.4" font-size="17.8" textLength="65.67" lengthAdjust="spacingAndGlyphs">Isotype</tspan> <tspan x="417.05" y="504.4" font-size="17.8" textLength="64.41" lengthAdjust="spacingAndGlyphs">control</tspan></text>
<text y="522.7" font-size="17.8"><tspan x="342.33" y="522.7" font-size="17.8" textLength="26.25" lengthAdjust="spacingAndGlyphs">Mn</tspan><tspan x="368.86" y="519.7" font-size="12.6" textLength="13.93" lengthAdjust="spacingAndGlyphs">2+</tspan></text>
<text y="543.2" font-size="17.8"><tspan x="345.41" y="543.2" font-size="17.8" textLength="18.98" lengthAdjust="spacingAndGlyphs">50</tspan> <tspan x="370.70" y="543.2" font-size="17.8" textLength="56.06" lengthAdjust="spacingAndGlyphs">ng/mL</tspan> <tspan x="430.23" y="543.2" font-size="17.8" textLength="63.35" lengthAdjust="spacingAndGlyphs">TS1-18</tspan></text>
<text y="561.3" font-size="17.8"><tspan x="345.78" y="561.3" font-size="17.8" textLength="29.02" lengthAdjust="spacingAndGlyphs">100</tspan> <tspan x="381.20" y="561.3" font-size="17.8" textLength="56.16" lengthAdjust="spacingAndGlyphs">ng/mL</tspan> <tspan x="440.63" y="561.3" font-size="17.8" textLength="63.25" lengthAdjust="spacingAndGlyphs">TS1-18</tspan></text>
<text y="580.5" font-size="17.8"><tspan x="344.68" y="580.5" font-size="17.8" textLength="30.15" lengthAdjust="spacingAndGlyphs">200</tspan> <tspan x="381.20" y="580.5" font-size="17.8" textLength="56.16" lengthAdjust="spacingAndGlyphs">ng/mL</tspan> <tspan x="440.63" y="580.5" font-size="17.8" textLength="63.25" lengthAdjust="spacingAndGlyphs">TS1-18</tspan></text>
</g>
</g>
</svg>
</body></html>
